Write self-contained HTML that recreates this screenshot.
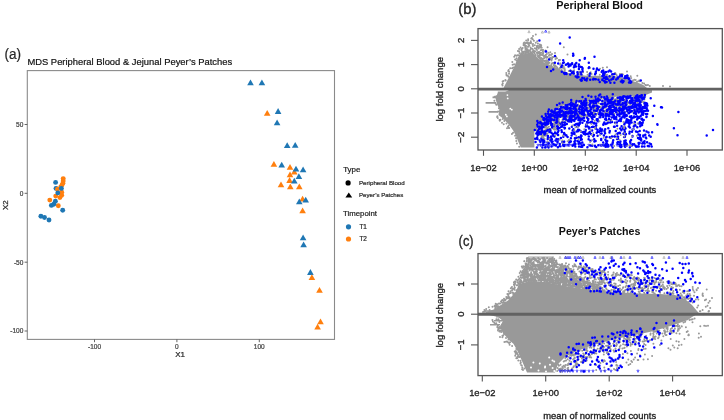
<!DOCTYPE html>
<html><head><meta charset="utf-8"><style>
html,body{margin:0;padding:0;background:#fff;width:724px;height:420px;overflow:hidden}
svg{display:block;filter:blur(0.3px)}
text{font-family:"Liberation Sans",sans-serif}
.ma text{stroke:#222;stroke-width:0.32px}
.ma text[font-weight="bold"]{stroke:none}
.pa text{stroke:#333;stroke-width:0.22px}
</style></head><body>
<svg width="724" height="420" viewBox="0 0 724 420">
<rect width="724" height="420" fill="#fff"/>
<g class="pa"><text x="4.4" y="59.2" font-size="14" fill="#262626" textLength="16.6" lengthAdjust="spacingAndGlyphs">(a)</text>
<text x="27.4" y="64.7" font-size="9.37" fill="#000" textLength="204.8" lengthAdjust="spacingAndGlyphs">MDS Peripheral Blood &amp; Jejunal Peyer&#8217;s Patches</text>
<rect x="27.3" y="70.6" width="307.2" height="268.8" fill="none" stroke="#8a8a8a" stroke-width="1.1"/>
<line x1="24.6" y1="124.5" x2="27.3" y2="124.5" stroke="#555" stroke-width="0.9"/>
<text x="23.3" y="126.8" font-size="6.5" fill="#555" text-anchor="end">50</text>
<line x1="24.6" y1="193.3" x2="27.3" y2="193.3" stroke="#555" stroke-width="0.9"/>
<text x="23.3" y="195.60000000000002" font-size="6.5" fill="#555" text-anchor="end">0</text>
<line x1="24.6" y1="262.2" x2="27.3" y2="262.2" stroke="#555" stroke-width="0.9"/>
<text x="23.3" y="264.5" font-size="6.5" fill="#555" text-anchor="end">-50</text>
<line x1="24.6" y1="331.0" x2="27.3" y2="331.0" stroke="#555" stroke-width="0.9"/>
<text x="23.3" y="333.3" font-size="6.5" fill="#555" text-anchor="end">-100</text>
<line x1="94.5" y1="339.4" x2="94.5" y2="342.2" stroke="#555" stroke-width="0.9"/>
<text x="94.5" y="348.5" font-size="6.5" fill="#555" text-anchor="middle">-100</text>
<line x1="176.9" y1="339.4" x2="176.9" y2="342.2" stroke="#555" stroke-width="0.9"/>
<text x="176.9" y="348.5" font-size="6.5" fill="#555" text-anchor="middle">0</text>
<line x1="259.3" y1="339.4" x2="259.3" y2="342.2" stroke="#555" stroke-width="0.9"/>
<text x="259.3" y="348.5" font-size="6.5" fill="#555" text-anchor="middle">100</text>
<text x="180.1" y="357.3" font-size="8" fill="#111" text-anchor="middle">X1</text>
<text x="8.0" y="205.2" font-size="8" fill="#111" text-anchor="middle" transform="rotate(-90 8.0 205.2)">X2</text>
<circle cx="40.9" cy="216.3" r="2.45" fill="#1f77b4"/>
<circle cx="44.5" cy="217.5" r="2.45" fill="#1f77b4"/>
<circle cx="49" cy="220" r="2.45" fill="#1f77b4"/>
<circle cx="62.7" cy="210.2" r="2.45" fill="#1f77b4"/>
<circle cx="58.3" cy="205.8" r="2.45" fill="#ff7f0e"/>
<circle cx="51.4" cy="205.4" r="2.45" fill="#1f77b4"/>
<circle cx="53.8" cy="204.2" r="2.45" fill="#1f77b4"/>
<circle cx="55.4" cy="201.3" r="2.45" fill="#1f77b4"/>
<circle cx="49.8" cy="200.1" r="2.45" fill="#ff7f0e"/>
<circle cx="56" cy="188.4" r="2.45" fill="#1f77b4"/>
<circle cx="55.7" cy="196.1" r="2.45" fill="#ff7f0e"/>
<circle cx="59.9" cy="197.6" r="2.45" fill="#ff7f0e"/>
<circle cx="61.7" cy="195.2" r="2.45" fill="#ff7f0e"/>
<circle cx="63.2" cy="178.6" r="2.45" fill="#ff7f0e"/>
<circle cx="63.2" cy="181" r="2.45" fill="#ff7f0e"/>
<circle cx="62.9" cy="183.3" r="2.45" fill="#ff7f0e"/>
<circle cx="62" cy="185.1" r="2.45" fill="#ff7f0e"/>
<circle cx="60.8" cy="186.9" r="2.45" fill="#ff7f0e"/>
<circle cx="57.5" cy="189.3" r="2.45" fill="#ff7f0e"/>
<circle cx="61.7" cy="192.3" r="2.45" fill="#ff7f0e"/>
<circle cx="57.8" cy="192.9" r="2.45" fill="#1f77b4"/>
<circle cx="61.4" cy="188.4" r="2.45" fill="#1f77b4"/>
<circle cx="55.6" cy="182.4" r="2.45" fill="#1f77b4"/>
<path d="M319.5 287.0L322.8 292.8L316.2 292.8Z" fill="#ff7f0e"/>
<path d="M298.9 173.2L302.2 179.0L295.6 179.0Z" fill="#1f77b4"/>
<path d="M294.3 168.8L297.6 174.6L291.0 174.6Z" fill="#ff7f0e"/>
<path d="M317.6 323.8L320.9 329.6L314.3 329.6Z" fill="#ff7f0e"/>
<path d="M320.5 318.4L323.8 324.2L317.2 324.2Z" fill="#ff7f0e"/>
<path d="M295.2 142.0L298.5 147.8L291.9 147.8Z" fill="#1f77b4"/>
<path d="M296.0 165.7L299.3 171.5L292.7 171.5Z" fill="#1f77b4"/>
<path d="M281.0 181.4L284.3 187.2L277.7 187.2Z" fill="#ff7f0e"/>
<path d="M250.5 79.5L253.8 85.3L247.2 85.3Z" fill="#1f77b4"/>
<path d="M303.6 241.4L306.9 247.2L300.3 247.2Z" fill="#1f77b4"/>
<path d="M303.1 166.4L306.4 172.2L299.8 172.2Z" fill="#1f77b4"/>
<path d="M310.4 269.1L313.7 274.9L307.1 274.9Z" fill="#1f77b4"/>
<path d="M290.3 183.5L293.6 189.3L287.0 189.3Z" fill="#ff7f0e"/>
<path d="M299.3 183.5L302.6 189.3L296.0 189.3Z" fill="#ff7f0e"/>
<path d="M289.6 177.1L292.9 182.9L286.3 182.9Z" fill="#ff7f0e"/>
<path d="M303.1 234.5L306.4 240.3L299.8 240.3Z" fill="#1f77b4"/>
<path d="M302.6 195.7L305.9 201.5L299.3 201.5Z" fill="#ff7f0e"/>
<path d="M311.9 274.2L315.2 280.0L308.6 280.0Z" fill="#ff7f0e"/>
<path d="M281.7 161.8L285.0 167.6L278.4 167.6Z" fill="#1f77b4"/>
<path d="M267.2 110.0L270.5 115.8L263.9 115.8Z" fill="#ff7f0e"/>
<path d="M302.6 207.4L305.9 213.2L299.3 213.2Z" fill="#ff7f0e"/>
<path d="M290.0 164.0L293.3 169.8L286.7 169.8Z" fill="#ff7f0e"/>
<path d="M305.7 196.7L309.0 202.5L302.4 202.5Z" fill="#1f77b4"/>
<path d="M277.1 119.5L280.4 125.3L273.8 125.3Z" fill="#1f77b4"/>
<path d="M273.9 161.0L277.2 166.8L270.6 166.8Z" fill="#ff7f0e"/>
<path d="M278.1 108.1L281.4 113.9L274.8 113.9Z" fill="#1f77b4"/>
<path d="M261.9 79.5L265.2 85.3L258.6 85.3Z" fill="#1f77b4"/>
<path d="M290.0 171.4L293.3 177.2L286.7 177.2Z" fill="#ff7f0e"/>
<path d="M299.3 198.5L302.6 204.3L296.0 204.3Z" fill="#1f77b4"/>
<path d="M287.2 142.3L290.5 148.1L283.9 148.1Z" fill="#1f77b4"/>
<path d="M294.3 177.8L297.6 183.6L291.0 183.6Z" fill="#1f77b4"/>
<text x="343.2" y="172.0" font-size="7.4" fill="#111" textLength="17.3" lengthAdjust="spacingAndGlyphs">Type</text>
<circle cx="348.1" cy="182.9" r="2.6" fill="#000"/>
<path d="M348.8 192.6L352.2 197.4L345.4 197.4Z" fill="#000"/>
<text x="359.0" y="185.0" font-size="6.1" fill="#222" textLength="45.7" lengthAdjust="spacingAndGlyphs">Peripheral Blood</text>
<text x="359.0" y="197.2" font-size="6.1" fill="#222" textLength="44.2" lengthAdjust="spacingAndGlyphs">Peyer&#8217;s Patches</text>
<text x="343.0" y="215.8" font-size="7.6" fill="#111" textLength="34" lengthAdjust="spacingAndGlyphs">Timepoint</text>
<circle cx="348.5" cy="226.8" r="2.6" fill="#1f77b4"/>
<circle cx="348.5" cy="239.0" r="2.6" fill="#ff7f0e"/>
<text x="359.4" y="229.1" font-size="6.4" fill="#222">T1</text>
<text x="359.4" y="241.3" font-size="6.4" fill="#222">T2</text></g>
<g class="ma"><text x="458.2" y="14.4" font-size="14" fill="#262626" textLength="18.2" lengthAdjust="spacingAndGlyphs">(b)</text>
<text x="599.6" y="8.6" font-size="10.6" fill="#111" text-anchor="middle" font-weight="bold" textLength="86.6" lengthAdjust="spacingAndGlyphs">Peripheral Blood</text>
<clipPath id="cb"><rect x="478.0" y="28.6" width="244.29999999999995" height="121.4"/></clipPath>
<g clip-path="url(#cb)">
<path d="M503.0 89.1L504.0 87.0L509.2 76.7L513.6 67.9L518.0 57.5L521.0 52.0L524.0 54.6L531.3 51.6L537.2 57.5L543.1 62.0L549.0 64.5L557.9 68.5L568.3 73.0L576.6 75.0L587.6 75.7L612.5 75.7L623.5 77.8L629.0 79.9L637.3 82.6L642.9 84.7L645.6 86.8L648.0 89.1Z" fill="#999999"/>
<path d="M538.3 57.3h0M521.8 49.6h0M557.2 67.5h0M544.1 58.0h0M525.6 47.9h0M536.2 48.9h0M557.8 68.4h0M551.5 60.6h0M530.6 47.5h0M529.5 43.2h0M521.5 50.3h0M522.7 48.0h0M540.3 53.5h0M522.6 52.7h0M526.5 48.6h0M526.4 52.0h0M552.1 58.8h0M526.5 48.3h0M529.8 43.3h0M525.3 45.5h0M554.2 63.5h0M528.0 46.5h0M525.0 51.3h0M545.6 57.2h0M547.4 60.4h0M553.9 65.0h0M542.9 51.7h0M541.2 57.9h0M547.3 57.1h0M537.2 47.6h0M545.9 54.8h0M526.1 45.9h0M525.9 53.0h0M541.3 49.9h0M551.4 64.4h0M529.0 45.9h0M536.0 48.8h0M526.5 52.6h0M543.0 54.7h0M546.3 56.8h0M543.1 53.4h0M543.1 59.1h0M537.0 46.2h0M528.9 50.7h0M545.8 55.5h0M523.2 53.6h0M553.1 63.0h0M546.8 63.6h0M543.6 60.8h0M557.1 67.9h0M523.6 45.3h0M551.5 60.1h0M543.5 55.5h0M530.4 51.7h0M539.4 55.0h0M540.5 54.7h0M539.5 52.6h0M556.2 66.4h0M523.1 53.1h0M537.0 49.9h0M525.7 47.5h0M528.0 46.7h0M539.2 53.2h0M533.0 52.5h0M543.5 55.7h0M547.6 63.3h0M528.4 43.9h0M525.5 43.2h0M540.0 55.3h0M525.4 46.8h0M538.6 53.0h0M525.2 53.6h0M525.8 45.8h0M553.6 63.1h0M543.1 52.3h0M541.9 55.0h0M547.7 62.5h0M553.8 65.2h0M545.7 62.2h0M543.5 58.3h0M544.3 56.8h0M539.3 51.9h0M546.0 62.0h0M542.6 61.4h0M528.2 52.2h0M533.0 44.0h0M539.9 55.1h0M524.4 54.1h0M539.0 57.6h0M532.6 49.1h0M544.1 56.5h0M527.8 42.5h0M535.1 54.3h0M546.8 54.0h0M542.9 53.7h0M526.1 42.7h0M536.2 48.4h0M541.2 52.7h0M549.0 55.7h0M549.3 58.3h0M532.3 48.7h0M545.3 56.7h0M541.6 58.5h0M554.5 65.2h0M540.0 58.5h0M526.4 50.6h0M550.3 58.3h0M534.9 48.3h0M535.1 51.3h0M540.5 54.5h0M521.3 49.6h0M546.9 60.2h0M529.3 45.2h0M532.6 44.5h0M546.3 56.8h0M554.7 66.9h0M555.3 65.6h0M527.9 51.1h0M532.6 51.2h0M533.8 51.8h0M518.9 55.3h0M539.7 56.7h0M533.7 50.5h0M537.7 55.9h0M546.8 60.6h0M551.0 59.4h0M552.1 63.2h0M551.3 65.5h0M534.8 45.3h0M533.0 45.9h0M526.2 52.9h0M525.4 47.2h0M525.4 48.9h0M537.3 47.3h0M539.1 55.3h0M546.5 57.8h0M524.3 45.6h0M530.8 48.4h0M551.8 63.7h0M537.2 54.0h0M539.7 55.6h0M530.4 49.8h0M522.2 52.0h0M551.1 59.1h0M540.5 53.8h0M529.9 50.5h0M528.2 46.7h0M523.6 43.9h0M545.0 60.6h0M525.2 52.2h0M524.3 44.7h0M548.6 63.6h0M533.4 50.3h0M544.3 57.9h0M522.2 51.6h0M550.9 57.9h0M541.0 60.3h0M539.7 56.6h0M550.6 57.7h0M544.8 61.4h0M523.7 51.8h0M538.7 48.5h0M540.7 50.3h0M536.7 52.5h0M542.9 60.0h0M548.2 61.7h0M551.4 64.6h0M534.3 53.1h0M539.0 55.6h0M530.8 42.8h0M547.2 57.6h0M523.0 53.5h0M538.1 52.1h0M539.0 47.8h0M527.4 43.2h0M527.7 49.4h0M531.0 43.0h0M553.7 63.5h0M533.9 51.0h0M536.9 46.9h0M536.9 46.0h0M553.9 65.0h0M526.9 49.7h0M525.2 47.7h0M527.1 49.5h0M535.6 55.7h0M521.5 49.1h0M540.2 58.8h0M545.3 55.5h0M549.4 62.8h0M541.8 60.7h0" stroke="#999999" stroke-width="2.0" stroke-linecap="round" fill="none"/>
<path d="M549.5 54.6h0M552.0 54.0h0M539.8 44.6h0M541.2 47.1h0M558.8 60.4h0M558.9 60.1h0M541.2 45.3h0M524.4 42.6h0M557.0 58.3h0M532.7 39.2h0M542.8 50.0h0M535.8 42.8h0M533.9 40.8h0M550.3 52.3h0M538.0 45.7h0M552.3 56.9h0M541.2 45.3h0M555.5 58.9h0M540.1 46.7h0M537.9 43.4h0M556.1 57.0h0M531.3 38.4h0M528.1 39.3h0M548.3 52.7h0M540.2 47.4h0M560.5 63.6h0M530.8 41.3h0M539.9 45.9h0M545.5 50.6h0M553.7 57.0h0M523.8 43.1h0M528.1 40.3h0M539.3 46.5h0M527.5 42.4h0M541.7 47.8h0M540.8 45.0h0" stroke="#999999" stroke-width="2.0" stroke-linecap="round" fill="none"/>
<path d="M514.1 64.3h0M516.6 58.3h0M502.9 88.7h0M505.6 80.4h0M510.2 68.3h0M519.5 53.0h0M506.3 73.1h0M505.4 80.1h0M517.9 51.0h0M514.2 56.7h0M516.6 60.4h0M507.8 75.8h0M506.6 75.4h0M515.1 55.2h0M502.2 84.5h0M508.4 76.7h0M515.1 59.6h0M509.0 73.7h0M505.7 80.6h0M512.1 68.2h0M517.5 55.3h0M512.6 64.8h0M519.1 48.9h0M519.1 51.2h0M509.1 71.7h0M503.5 80.9h0M502.5 85.5h0M516.6 55.8h0M512.3 62.1h0M508.2 71.1h0M506.4 74.7h0M520.6 47.6h0M502.6 81.6h0M502.8 83.4h0M513.3 67.5h0M508.7 70.0h0" stroke="#999999" stroke-width="2.0" stroke-linecap="round" fill="none"/>
<path d="M611.7 75.0h0M628.3 77.3h0M625.5 76.2h0M579.4 74.3h0M636.7 81.9h0M570.3 70.8h0M645.4 85.1h0M560.8 66.5h0M560.1 64.7h0M634.3 79.7h0M620.1 74.4h0M581.2 74.9h0M630.7 76.3h0M646.4 85.2h0M639.2 80.6h0M564.5 68.2h0M628.1 76.0h0M572.7 71.5h0M562.7 67.7h0M561.7 69.9h0M587.1 72.1h0M644.1 83.4h0M616.1 74.5h0M604.3 73.7h0M603.0 75.0h0M648.0 84.9h0M637.8 81.5h0M616.8 75.2h0M560.0 67.7h0M621.9 75.8h0M606.0 75.1h0M607.2 74.8h0M580.1 71.5h0M596.1 73.3h0M579.6 74.8h0M628.1 76.7h0M628.5 78.8h0M622.9 74.4h0M564.4 70.1h0M621.9 74.0h0M568.9 70.9h0M604.8 73.4h0M591.6 74.0h0M615.4 73.4h0M599.8 74.8h0M626.7 77.2h0M606.6 75.3h0M613.7 74.5h0M564.8 70.8h0M583.1 72.2h0M571.6 71.1h0M582.3 75.2h0M589.3 74.0h0M573.7 72.1h0M578.8 72.3h0M563.7 66.3h0M574.1 70.2h0M587.6 74.7h0M590.7 72.2h0M639.6 81.2h0M621.7 75.4h0M596.0 72.9h0M604.3 74.7h0M631.2 78.1h0M642.4 83.0h0M564.8 69.6h0M571.6 72.9h0M577.9 74.2h0M559.5 69.0h0M632.9 80.5h0M560.7 67.7h0M564.0 68.3h0M635.7 80.0h0" stroke="#999999" stroke-width="2.0" stroke-linecap="round" fill="none"/>
<path d="M535.8 34.6h0M526.2 40.5h0M530.6 42.8h0M537.2 41.3h0M540.9 45.7h0M547.6 47.2h0M555.0 53.1h0M563.8 47.2h0M567.5 54.6h0M600.0 68.8h0M602.8 67.7h0M607.0 67.2h0M615.2 73.0h0M627.0 71.6h0M637.3 75.7h0M649.8 86.0h0M663.0 86.0h0M670.0 86.5h0M532.0 38.0h0M543.0 50.0h0M551.0 55.0h0M560.0 60.0h0M575.0 64.0h0M590.0 68.0h0M620.0 74.0h0M533.0 36.0h0" stroke="#999999" stroke-width="2.0" stroke-linecap="round" fill="none"/>
<path d="M529.0 30.5l1.1 2.2h-2.2zM542.4 30.9l1.1 2.2h-2.2zM549.0 30.9l1.1 2.2h-2.2z" stroke="#999999" stroke-width="0.6" fill="none"/>
<path d="M511.0 89.1L505.0 92.1L497.8 92.8L495.5 98.2L497.0 104.3L499.3 108.9L498.5 115.0L502.4 118.0L508.5 124.1L513.0 130.2L516.1 136.3L519.2 143.9L520.7 147.5L534.4 147.5L534.4 130.0L540.0 122.0L548.0 113.5L557.7 107.7L566.0 104.5L575.0 102.3L584.0 100.5L593.0 99.0L602.0 97.8L620.0 96.5L645.0 95.2L652.0 92.5L652.0 89.1Z" fill="#999999"/>
<path d="M605.1 112.4h0M554.7 117.6h0M598.0 105.9h0M555.8 127.7h0M543.2 133.9h0M540.2 132.2h0M633.1 112.3h0M637.6 96.9h0M557.0 123.9h0M594.7 112.0h0M551.2 120.7h0M591.6 112.6h0M603.7 103.9h0M640.2 101.1h0M636.7 97.0h0M566.4 108.3h0M555.3 112.8h0M550.6 113.3h0M597.9 101.1h0M622.3 98.0h0M605.2 107.7h0M556.0 115.2h0M564.0 111.6h0M612.5 103.7h0M630.0 104.1h0M597.1 110.4h0M606.2 98.1h0M615.0 105.6h0M581.8 109.4h0M579.2 109.2h0M611.6 102.0h0M557.3 122.8h0M581.0 103.4h0M594.3 100.9h0M564.1 122.1h0M567.1 115.6h0M588.9 113.0h0M588.4 111.2h0M610.7 101.9h0M551.2 114.2h0M584.5 108.4h0M541.7 125.4h0M558.5 115.2h0M639.7 110.2h0M550.6 130.2h0M557.9 124.0h0M542.7 136.6h0M550.2 119.7h0M562.4 119.9h0M572.3 114.0h0M586.6 100.5h0M607.0 111.5h0M575.9 103.1h0M548.9 126.7h0M576.6 113.6h0M574.1 111.0h0M562.7 109.3h0M545.7 131.0h0M638.1 108.8h0M550.4 123.8h0M634.8 99.0h0M574.1 116.4h0M557.1 108.2h0M582.2 107.7h0M571.1 103.8h0M601.8 109.5h0M548.6 131.4h0M544.6 120.2h0M580.6 102.2h0M609.8 102.3h0M594.1 113.7h0M642.4 109.1h0M583.8 116.0h0M598.0 107.7h0M622.1 110.1h0M544.9 134.8h0M609.5 113.7h0M593.0 104.3h0M586.5 106.7h0M610.5 100.0h0M628.5 112.2h0M644.4 103.2h0M639.9 104.5h0M583.6 115.7h0M587.1 111.8h0M614.5 109.8h0M598.2 101.7h0M575.9 109.1h0M549.8 121.6h0M628.9 112.3h0M536.1 129.5h0M623.4 98.9h0M555.7 109.3h0M568.5 115.4h0M574.4 116.3h0M623.8 106.9h0M640.0 102.9h0M625.0 100.6h0M568.5 115.0h0M567.3 114.0h0M626.7 98.4h0M572.7 105.4h0M610.3 110.2h0M589.7 112.1h0M567.8 108.6h0M633.4 111.3h0M589.9 110.6h0M631.0 97.5h0M552.9 120.4h0M550.7 129.0h0M621.9 107.5h0M543.5 127.0h0M616.8 97.9h0M548.4 115.2h0M580.6 116.4h0M602.7 110.9h0M629.1 97.1h0M591.8 107.4h0M598.2 98.5h0M628.7 97.1h0M541.3 127.9h0M612.5 111.7h0M606.4 98.2h0M557.5 115.4h0M579.2 106.2h0M603.5 111.1h0M609.2 97.6h0M578.9 107.5h0M612.2 99.6h0M568.8 112.9h0M548.4 122.0h0M556.4 119.0h0M567.2 117.1h0M593.4 107.1h0M573.7 107.9h0M552.2 120.6h0M591.9 107.2h0M542.3 125.2h0M544.5 121.3h0M641.2 100.9h0M541.2 134.9h0M610.8 100.4h0M599.6 113.7h0M593.6 107.6h0M575.7 103.7h0M600.7 98.0h0M642.0 108.5h0M590.0 114.0h0M594.4 99.8h0M632.8 97.5h0M613.5 105.6h0M616.3 106.2h0M539.2 134.6h0M574.5 104.3h0M608.5 99.5h0M561.9 112.8h0M612.6 105.2h0M556.8 116.8h0M566.1 120.0h0M544.5 126.3h0M553.5 127.7h0M640.5 104.5h0M543.8 131.2h0M547.3 124.0h0M550.6 117.2h0M537.6 134.1h0M625.1 104.9h0M541.6 125.5h0M550.8 120.7h0M580.3 101.7h0M582.2 101.3h0M597.3 113.5h0M639.2 104.5h0M537.6 131.4h0M632.5 102.1h0M562.2 122.7h0M600.0 106.7h0M607.2 109.1h0M603.1 106.0h0M545.7 130.0h0M550.4 129.0h0M565.1 111.5h0M570.9 112.2h0M598.6 106.3h0M615.5 105.3h0M596.6 105.8h0M548.3 114.9h0M567.4 120.9h0M592.8 115.5h0M593.3 102.9h0M603.4 108.4h0M620.9 108.1h0M576.3 114.6h0M544.6 125.4h0M553.1 118.1h0M574.7 102.6h0M634.4 103.1h0M614.6 102.8h0M544.4 133.7h0M552.8 111.1h0M547.2 119.4h0M601.8 107.4h0M539.6 124.2h0M589.3 108.1h0M583.7 114.1h0M602.1 107.3h0M595.9 110.2h0M583.8 113.2h0M626.6 107.5h0M569.9 117.2h0M561.4 111.9h0M588.4 100.1h0M556.9 117.2h0M625.1 107.4h0M600.6 99.3h0M591.8 103.2h0M544.0 124.1h0M543.9 119.5h0M551.0 125.6h0M622.9 106.3h0M622.2 99.8h0M548.8 117.9h0M555.2 120.3h0M611.8 109.4h0M593.5 111.2h0M592.0 101.8h0M616.8 106.6h0M579.8 106.3h0M601.7 114.5h0M611.4 114.2h0M546.2 117.2h0M562.9 108.5h0M617.6 102.2h0M605.3 100.5h0M535.8 128.1h0M620.7 98.2h0M620.8 105.7h0M555.6 118.7h0M607.1 113.6h0M608.8 106.3h0M602.8 114.4h0M561.4 108.8h0M570.3 109.3h0M584.8 114.4h0M584.9 115.2h0M607.8 109.3h0M565.7 116.5h0M641.5 101.3h0M623.5 107.7h0M554.5 117.8h0M541.0 121.2h0M632.8 103.3h0M567.3 119.9h0M610.9 97.3h0M596.5 106.6h0M587.4 116.1h0M611.3 103.2h0M616.8 102.2h0M577.8 112.2h0M572.1 111.4h0M552.5 113.1h0M544.9 130.8h0M601.2 98.3h0M575.4 109.9h0M619.3 98.5h0M582.0 116.9h0M551.0 125.1h0M560.9 122.8h0M585.0 107.4h0M573.6 106.1h0M640.3 98.8h0M610.3 99.3h0M619.7 102.3h0M545.0 127.8h0M589.6 108.5h0M593.3 112.0h0M537.5 132.0h0M595.2 102.1h0M542.8 137.1h0M553.7 124.0h0M547.1 129.4h0M588.3 108.0h0M567.1 112.8h0M611.1 99.9h0M557.8 117.1h0M615.0 102.6h0M578.0 112.9h0M587.2 107.4h0M612.3 98.7h0M591.9 113.6h0M554.9 118.0h0M586.2 102.6h0M582.1 115.6h0M617.8 109.0h0M542.3 128.0h0M547.6 128.5h0M616.9 100.2h0M613.4 104.5h0M642.1 96.8h0M552.5 128.1h0M620.2 107.2h0M543.0 133.5h0M598.1 99.0h0M586.4 115.2h0M633.3 110.7h0M619.9 102.7h0M558.7 107.5h0M596.6 109.6h0M540.6 130.5h0M622.9 98.0h0M566.1 115.9h0M542.3 120.3h0M593.3 108.8h0M588.8 111.6h0M557.4 121.8h0M574.8 107.1h0M604.9 101.0h0M607.7 112.5h0M594.3 110.5h0M546.9 134.3h0M643.4 98.8h0M544.1 130.5h0M594.2 99.3h0M598.2 102.9h0M583.1 108.1h0M641.8 97.4h0M619.9 100.6h0M559.1 121.9h0M600.3 113.1h0M612.7 111.9h0M604.3 104.0h0M549.9 118.0h0M595.0 104.7h0M600.1 109.2h0M613.5 97.5h0M605.1 99.5h0M637.1 105.1h0M602.4 105.9h0M537.5 126.3h0M630.7 104.7h0M596.7 105.7h0M540.9 121.2h0M544.1 134.5h0M642.4 101.8h0M575.1 109.0h0M588.6 105.6h0M622.0 111.0h0M617.8 110.9h0M553.9 114.0h0M547.2 127.4h0M562.7 117.5h0M640.4 108.6h0M555.8 117.6h0M557.9 122.9h0M587.3 100.2h0M544.7 122.8h0M559.9 116.9h0M638.4 99.3h0M643.2 108.3h0M567.5 108.9h0M644.4 99.4h0M598.6 109.7h0M548.3 118.2h0M573.0 117.2h0M640.3 97.9h0M543.7 123.9h0M641.7 101.9h0M555.6 115.8h0M608.7 97.5h0M556.8 121.4h0M616.0 99.3h0M581.1 110.1h0M548.7 122.8h0M549.9 114.8h0M544.0 120.3h0M634.4 100.9h0M564.6 118.5h0M540.8 129.8h0M615.1 100.5h0M604.3 101.0h0M594.1 99.4h0M566.1 115.4h0M638.8 110.2h0M573.8 104.6h0M617.5 111.7h0M563.2 113.5h0M616.0 99.0h0M585.5 106.5h0M567.1 110.3h0M556.7 121.0h0M634.4 101.2h0M555.5 109.2h0M572.3 114.4h0M558.1 109.5h0M547.1 114.9h0M617.3 111.1h0M606.0 105.4h0M639.9 108.5h0M554.1 110.8h0M543.3 136.2h0M595.8 103.0h0M598.2 112.5h0M542.1 120.7h0M613.9 104.9h0M571.9 114.8h0M625.9 99.4h0M556.3 113.5h0M567.3 117.5h0M617.4 99.3h0M580.3 117.1h0M546.3 135.6h0M576.4 106.1h0M543.6 119.3h0M605.8 114.5h0M623.8 109.3h0M571.8 114.6h0M545.2 120.1h0M614.8 110.6h0M616.5 111.1h0M604.5 99.8h0M570.2 120.3h0M631.8 107.4h0M557.9 123.0h0M542.8 123.2h0M629.9 107.2h0M605.3 110.5h0M560.4 123.5h0M555.0 111.1h0M624.3 108.3h0M576.7 107.7h0M604.6 112.7h0M565.3 108.2h0M617.9 104.4h0M573.3 116.5h0M633.4 95.9h0M551.2 124.3h0M629.5 109.4h0M613.4 114.1h0M570.4 108.8h0M558.9 124.7h0M636.9 100.3h0M566.7 113.2h0M628.1 102.2h0M537.8 126.9h0M626.3 103.7h0M640.9 100.6h0M580.8 105.6h0M629.7 109.5h0M637.0 96.7h0M634.5 96.1h0M624.7 96.8h0M626.3 96.2h0M631.1 105.9h0M618.0 111.2h0M582.1 115.8h0M554.5 120.7h0M621.6 104.4h0M576.0 106.7h0M591.1 100.9h0M579.4 115.4h0M594.4 102.6h0M554.5 125.7h0M592.5 113.6h0M590.0 113.6h0M562.6 121.3h0M547.1 127.9h0M556.6 112.2h0M600.2 107.1h0M643.9 96.2h0M586.7 109.7h0M584.0 111.8h0M601.0 113.9h0M610.6 111.3h0M618.3 114.1h0M609.5 99.5h0M591.8 107.7h0M607.4 102.7h0M568.0 106.5h0M566.0 120.5h0M578.4 114.4h0M607.7 104.5h0M633.6 98.1h0M637.5 105.2h0M549.1 122.8h0M573.4 103.2h0M606.4 100.3h0M611.1 105.7h0M642.4 108.2h0M589.7 116.2h0M643.7 102.1h0M575.2 110.6h0M546.3 126.4h0M575.2 118.8h0M577.4 108.9h0M587.8 116.2h0M555.0 118.4h0M581.3 113.7h0M568.5 119.7h0M603.0 101.0h0M583.0 101.1h0M547.2 115.8h0M609.4 112.0h0M632.3 98.2h0M592.5 100.2h0M634.9 105.7h0M621.9 96.9h0M590.7 108.8h0M591.3 112.4h0M596.3 114.6h0M561.2 109.8h0M563.8 108.4h0M623.4 109.0h0M558.2 120.4h0M640.6 95.9h0M571.6 109.0h0M607.4 101.2h0M591.7 108.7h0M606.4 98.4h0M593.0 114.3h0M601.8 107.9h0M627.7 106.8h0M595.8 114.7h0M594.6 111.5h0M585.9 107.3h0M584.5 107.0h0M545.1 135.8h0M570.1 107.4h0M596.3 108.3h0M615.9 108.8h0M638.1 97.1h0M540.8 134.7h0M611.9 107.0h0M606.8 111.3h0M591.6 107.5h0M629.7 106.7h0M580.4 113.4h0M608.5 106.9h0M619.5 100.0h0M546.5 134.5h0M624.1 101.8h0M594.0 103.6h0M616.7 100.7h0M580.5 102.0h0M607.6 110.9h0M623.3 111.6h0M554.5 119.7h0M584.6 100.7h0M637.2 110.5h0M603.3 97.9h0M611.4 101.1h0M587.7 105.0h0M617.6 113.2h0M596.3 108.8h0M608.2 114.5h0M622.7 108.3h0M545.1 132.4h0M574.7 106.2h0M603.2 111.1h0M621.0 110.6h0M592.5 107.7h0M562.7 114.2h0M607.9 112.2h0M618.7 97.2h0M547.9 118.6h0M619.2 102.6h0M573.9 111.5h0M637.3 102.4h0M604.8 105.3h0M571.5 111.7h0M611.0 100.4h0M640.5 102.7h0M617.6 111.2h0M538.5 124.7h0M554.7 125.1h0M566.1 109.1h0M639.7 102.6h0M558.2 111.9h0M570.5 104.4h0M594.9 101.2h0M569.7 108.3h0M555.6 123.7h0M570.2 118.3h0M554.9 126.8h0M593.6 113.3h0M598.7 98.9h0M570.5 109.9h0M575.7 113.7h0M560.6 115.3h0M575.3 116.9h0M554.3 128.6h0M612.2 111.7h0M538.9 132.2h0M560.4 122.8h0M630.2 111.3h0M554.7 117.6h0M536.7 128.6h0M638.1 103.7h0M627.5 107.1h0M623.8 112.3h0M615.2 104.5h0M610.0 102.6h0M551.6 113.7h0M547.2 121.3h0M554.2 111.4h0M604.2 102.1h0M567.3 109.3h0M565.5 119.7h0M598.5 101.1h0M551.7 123.3h0M542.3 133.6h0M599.1 103.6h0M549.1 129.0h0M537.6 125.8h0M626.0 100.0h0M634.1 95.8h0M570.9 104.6h0M558.1 117.6h0M558.1 125.8h0M585.2 103.0h0M552.8 111.3h0M605.4 106.8h0M554.9 118.7h0M581.6 102.5h0M563.6 117.1h0M611.5 99.9h0M554.0 116.3h0M593.1 103.1h0M605.1 99.2h0M593.2 107.4h0M565.3 105.5h0M612.9 106.2h0M591.7 100.2h0M552.9 113.8h0M570.4 109.6h0M568.1 110.0h0M574.1 105.5h0M538.7 130.5h0M568.0 107.3h0M547.4 125.1h0M636.0 109.2h0M540.9 123.1h0M552.6 111.4h0M573.7 107.3h0M644.6 104.0h0M612.9 102.5h0M541.5 126.3h0M553.0 123.8h0M565.1 114.8h0M612.9 98.9h0M590.2 111.7h0M633.3 107.2h0M637.2 111.4h0M619.6 103.5h0M578.4 112.3h0M554.3 123.2h0M539.4 129.2h0M627.1 111.2h0M625.2 96.3h0M586.1 116.3h0M595.7 106.8h0M542.2 136.0h0M583.8 115.5h0M535.8 130.3h0M589.1 115.6h0M613.4 98.2h0M567.4 107.5h0M588.6 114.0h0M601.2 104.1h0M564.0 108.9h0M564.3 111.1h0M591.7 109.0h0M541.4 131.6h0M638.6 111.7h0M595.1 114.4h0M579.5 111.7h0M626.2 105.3h0M558.9 119.1h0M635.0 110.9h0M611.9 111.3h0M554.6 118.2h0M595.1 105.1h0M568.6 116.3h0M640.5 107.4h0M640.0 105.8h0M568.0 113.8h0M596.5 106.2h0M547.0 128.4h0M557.2 116.3h0M644.5 104.0h0M608.6 108.9h0M578.9 117.5h0M639.1 97.4h0M559.4 124.3h0M571.5 118.4h0M582.3 113.8h0M557.6 114.4h0M542.6 137.4h0M593.0 108.0h0M552.7 126.7h0M624.4 102.2h0M542.1 120.4h0M637.5 99.1h0M587.8 114.9h0M602.2 110.3h0M574.9 116.9h0M599.5 100.8h0M608.7 106.3h0M607.4 105.6h0M587.8 108.7h0M621.6 113.1h0M544.1 135.0h0M613.2 101.0h0M612.5 97.7h0M593.1 114.9h0M630.2 96.4h0M556.7 118.9h0M561.0 112.4h0M545.9 126.4h0M558.9 120.0h0M632.2 97.9h0M576.9 106.8h0M614.4 113.8h0M597.1 98.6h0M538.8 128.5h0M581.4 116.3h0M596.5 104.8h0M566.1 106.6h0M645.2 96.4h0M553.2 112.4h0M627.0 104.2h0M625.1 103.0h0M627.9 113.1h0M573.5 106.0h0M555.5 122.6h0M615.5 105.2h0M607.3 102.4h0M539.9 125.5h0M617.0 105.5h0M547.2 124.3h0M628.7 96.6h0M604.8 98.4h0M619.4 99.2h0M622.5 108.6h0M584.5 112.2h0M624.6 100.1h0M577.8 112.4h0M635.8 111.5h0M590.1 115.4h0M537.6 129.8h0M547.0 117.5h0M605.3 98.7h0M573.6 119.4h0M579.0 102.0h0M619.5 113.2h0M595.2 109.6h0M541.7 136.6h0M630.3 109.1h0M637.0 96.2h0M551.3 115.2h0M615.2 104.5h0M570.6 108.8h0M639.8 106.8h0M625.9 103.7h0M542.6 135.7h0M619.3 106.2h0M629.0 102.4h0M588.8 108.0h0M598.3 106.4h0M595.6 106.6h0M602.8 106.6h0M624.9 111.7h0M570.2 118.3h0M550.5 113.3h0M634.2 96.6h0M555.6 119.5h0M602.3 102.1h0M595.7 107.8h0M572.6 114.9h0M603.0 109.1h0M632.3 99.9h0M555.4 120.6h0M541.3 128.6h0M623.1 104.6h0M541.1 122.6h0M633.3 103.2h0M636.6 107.4h0M619.6 103.8h0M543.7 131.8h0M600.0 98.8h0M617.8 105.1h0M558.2 118.2h0M560.5 123.6h0M567.0 111.3h0M577.6 116.0h0M544.1 133.2h0M544.0 132.3h0M642.0 111.4h0M538.9 130.2h0M599.5 100.0h0M555.0 112.0h0M564.0 114.1h0M593.5 115.8h0M639.2 112.0h0M644.3 95.6h0M569.3 111.5h0M584.8 110.2h0M587.5 104.7h0M578.5 105.1h0M559.7 114.8h0M615.4 99.8h0M576.8 111.7h0M567.2 115.2h0M622.2 106.5h0M634.7 106.6h0M574.4 116.3h0M564.6 118.1h0M640.3 105.7h0M589.5 110.9h0M547.7 119.8h0M629.5 112.3h0M552.1 120.4h0M621.5 100.8h0M595.0 109.7h0M642.0 97.8h0M596.7 102.6h0M636.7 109.9h0M619.8 113.8h0M556.2 111.8h0M587.8 116.3h0M551.2 124.3h0M564.7 106.5h0M602.8 100.6h0M558.2 108.7h0M595.6 101.8h0M628.8 106.2h0M596.5 109.7h0M621.0 103.1h0M627.2 97.1h0M536.4 128.8h0M629.1 96.9h0M554.8 113.0h0M596.2 102.3h0M587.6 114.6h0M642.1 107.6h0M608.3 104.4h0M570.2 110.4h0M619.8 101.6h0M592.8 104.4h0M639.2 104.4h0M590.1 110.2h0M604.4 111.4h0M575.6 107.7h0M636.6 111.3h0M622.3 108.8h0M600.0 114.9h0M569.4 109.4h0M572.6 110.7h0M582.6 101.9h0M637.0 104.5h0M553.5 129.1h0M622.0 110.7h0M637.6 101.4h0M619.9 104.8h0M618.4 103.2h0M562.1 122.2h0M569.6 120.2h0M627.8 103.6h0M604.9 104.0h0M639.3 95.8h0M613.0 101.8h0M588.3 102.8h0M580.8 110.4h0M617.6 100.7h0M587.2 101.3h0M613.7 99.0h0M634.1 98.9h0M581.5 111.0h0M564.8 114.1h0M546.0 125.3h0M596.1 115.2h0M596.2 110.0h0M554.3 121.4h0M557.4 120.2h0M619.5 112.1h0M609.6 114.1h0M547.6 133.5h0M593.9 106.4h0M571.9 115.4h0M537.3 131.3h0M623.8 106.0h0M594.4 103.6h0M560.9 123.2h0M636.6 96.4h0M551.6 116.3h0M552.1 118.0h0M565.2 114.5h0M557.7 123.5h0M578.1 115.8h0M575.7 103.1h0M557.6 109.6h0M575.4 107.1h0M546.1 120.1h0M636.9 100.1h0M546.4 134.0h0M574.9 114.0h0M605.0 107.8h0M578.3 104.5h0M641.4 111.7h0M555.9 111.9h0M585.5 103.3h0M540.5 124.9h0M626.0 106.9h0M556.3 114.6h0M562.2 106.8h0M614.6 100.4h0M630.3 97.4h0M608.1 109.5h0M589.4 100.8h0M589.3 114.2h0M621.1 103.8h0M584.6 100.4h0M553.9 110.8h0M546.3 118.2h0M544.9 134.9h0M546.0 133.6h0M569.9 111.3h0M545.4 123.3h0M542.5 125.1h0M594.4 107.5h0M541.7 136.1h0M638.4 110.6h0M548.9 114.5h0M546.7 128.8h0M629.8 101.8h0M555.6 121.5h0M573.5 108.5h0M558.6 111.9h0M553.5 118.7h0M543.4 137.7h0M561.3 112.6h0M575.8 115.4h0" stroke="#999999" stroke-width="2.0" stroke-linecap="round" fill="none"/>
<line x1="497.8" y1="92.3" x2="510" y2="92.3" stroke="#999999" stroke-width="1.8"/>
<line x1="492.5" y1="97.4" x2="503" y2="97.4" stroke="#999999" stroke-width="1.8"/>
<line x1="485.6" y1="102.8" x2="496" y2="102.8" stroke="#999999" stroke-width="1.8"/>
<line x1="488.5" y1="111.9" x2="498" y2="111.9" stroke="#999999" stroke-width="1.8"/>
<path d="M496.3 104.7h0M516.1 138.1h0M504.3 120.9h0M502.8 119.1h0M497.8 117.9h0M516.9 143.4h0M515.1 135.7h0M497.4 116.3h0M499.5 120.0h0M511.9 134.0h0M494.4 100.7h0M499.9 120.8h0M506.5 123.5h0M516.2 138.4h0M498.9 108.2h0M507.0 128.3h0M494.6 96.8h0M500.4 119.8h0M502.0 122.8h0M508.8 125.4h0M519.2 146.8h0M513.1 132.7h0M503.7 124.3h0M508.8 128.0h0M496.3 96.3h0M509.2 127.9h0M508.0 126.4h0M497.1 117.1h0M516.3 140.9h0M516.1 138.2h0M495.6 103.5h0M498.1 111.4h0" stroke="#999999" stroke-width="2.0" stroke-linecap="round" fill="none"/>
<path d="M507.4 95.1h0M511.8 109.7h0M507.7 98.4h0M505.8 114.7h0M510.3 108.7h0M506.9 116.4h0" stroke="#ffffff" stroke-width="1.8" stroke-linecap="round" fill="none"/>
<path d="M555.4 112.9h0M547.9 122.0h0M636.0 114.1h0M636.0 131.5h0M638.5 104.5h0M625.3 106.2h0M608.7 102.6h0M574.5 107.0h0M540.2 123.3h0M547.2 120.3h0M617.9 97.8h0M563.4 145.7h0M644.1 110.9h0M624.9 114.6h0M614.7 108.6h0M589.7 132.1h0M612.6 143.2h0M624.6 127.2h0M542.8 140.7h0M612.4 97.9h0M628.8 126.6h0M643.3 136.5h0M628.5 98.1h0M620.4 141.6h0M607.7 103.8h0M620.2 119.2h0M604.6 103.3h0M580.8 137.5h0M619.6 108.3h0M573.3 130.0h0M620.0 97.3h0M574.2 116.6h0M547.3 119.7h0M640.4 102.3h0M582.9 112.9h0M543.7 123.5h0M557.2 118.8h0M569.3 140.8h0M595.6 128.6h0M546.6 122.1h0M609.8 112.9h0M540.3 122.0h0M624.6 112.6h0M563.4 107.3h0M623.1 96.4h0M601.2 139.9h0M625.5 128.6h0M575.5 118.4h0M599.9 99.9h0M543.7 118.3h0M556.5 122.6h0M592.7 106.1h0M624.3 108.6h0M569.3 128.6h0M561.9 114.9h0M625.8 96.8h0M640.8 95.9h0M585.8 126.4h0M585.9 100.4h0M590.2 103.8h0M556.5 114.2h0M588.3 133.6h0M572.7 145.8h0M591.1 112.5h0M606.4 120.0h0M632.0 131.7h0M551.9 124.0h0M572.5 115.9h0M592.9 126.7h0M635.8 113.1h0M580.9 131.6h0M561.5 130.2h0M596.7 119.3h0M550.6 113.9h0M572.0 112.8h0M605.1 99.4h0M578.0 129.8h0M595.3 101.0h0M557.4 123.0h0M594.4 116.8h0M609.3 102.2h0M620.2 109.3h0M621.8 110.8h0M579.3 129.9h0M600.4 117.2h0M564.6 134.1h0M560.5 116.8h0M575.3 146.5h0M559.5 128.0h0M644.0 98.5h0M571.0 120.5h0M633.7 117.4h0M597.5 131.7h0M573.6 144.7h0M602.5 114.1h0M540.1 133.1h0M592.2 122.2h0M635.1 97.7h0M642.3 143.4h0M575.4 110.1h0M611.3 99.4h0M596.2 125.6h0M593.9 135.0h0M574.8 111.4h0M536.9 147.4h0M582.2 146.8h0M646.6 116.7h0M616.2 112.2h0M630.3 111.6h0M615.1 107.9h0M603.3 114.8h0M611.6 109.9h0M545.2 147.4h0M607.5 98.1h0M558.4 114.7h0M626.6 115.1h0M639.3 117.8h0M643.7 120.0h0M569.4 111.4h0M639.6 97.1h0M637.4 119.0h0M625.7 140.6h0M624.1 115.2h0M550.3 121.5h0M560.1 109.1h0M627.3 111.3h0M622.0 109.2h0M562.0 115.4h0M605.7 123.9h0M552.6 141.6h0M587.9 112.7h0M560.9 111.7h0M610.0 103.0h0M623.6 113.7h0M614.0 126.8h0M566.5 113.3h0M642.4 108.8h0M610.3 122.4h0M644.6 143.5h0M618.7 103.9h0M637.7 111.0h0M549.5 132.1h0M638.1 97.1h0M578.4 120.0h0M631.4 118.6h0M636.2 146.8h0M637.5 132.1h0M583.9 113.3h0M582.4 111.6h0M567.5 104.9h0M549.8 138.1h0M638.6 112.6h0M589.4 104.8h0M578.6 143.8h0M551.3 115.8h0M557.8 132.3h0M614.4 102.0h0M555.3 109.6h0M574.6 124.9h0M544.4 142.1h0M622.9 100.1h0M600.7 115.7h0M562.4 126.4h0M577.9 123.8h0M563.4 112.0h0M629.6 102.4h0M614.4 117.4h0M547.5 142.4h0M576.7 113.5h0M588.6 139.3h0M645.8 137.5h0M589.9 100.7h0M548.1 113.7h0M571.2 117.0h0M598.6 99.6h0M630.1 101.0h0M581.8 139.5h0M544.2 118.6h0M575.6 108.8h0M618.0 101.2h0M575.5 113.7h0M583.8 102.8h0M601.5 109.8h0M570.9 141.6h0M631.8 108.1h0M617.2 114.8h0M574.7 143.1h0M640.0 136.9h0M553.1 135.5h0M641.7 114.2h0M606.4 142.6h0M646.4 117.1h0M586.6 107.9h0M541.4 132.6h0M648.0 110.7h0M570.7 119.1h0M570.6 115.3h0M638.9 144.1h0M558.3 139.3h0M550.5 118.2h0M636.7 116.6h0M579.7 107.1h0M582.5 110.0h0M649.6 143.4h0M570.6 107.5h0M591.1 109.5h0M640.7 116.1h0M624.4 124.6h0M583.9 144.9h0M647.4 110.5h0M641.6 124.9h0M569.6 117.2h0M628.4 110.0h0M548.1 123.7h0M550.4 140.4h0M579.2 109.0h0M647.0 109.2h0M537.6 126.5h0M634.8 122.0h0M588.0 111.4h0M555.8 145.2h0M611.8 114.3h0M607.0 110.1h0M637.1 119.5h0M575.2 113.4h0M637.6 105.4h0M588.3 114.5h0M624.9 136.7h0M635.4 111.8h0M640.7 96.1h0M618.7 120.8h0M557.8 126.8h0M616.3 116.9h0M631.2 120.0h0M628.8 97.1h0M644.4 146.4h0M545.4 125.0h0M583.8 133.8h0M648.5 132.5h0M629.7 131.8h0M604.3 122.4h0M640.0 122.2h0M553.9 115.6h0M641.5 119.2h0M641.8 98.3h0M548.3 119.8h0M617.0 139.0h0M562.2 122.6h0M581.3 103.6h0M581.5 136.0h0M584.1 101.3h0M640.4 101.5h0M623.7 115.4h0M582.3 142.6h0M576.5 110.2h0M605.9 114.1h0M574.9 105.5h0M601.4 109.5h0M635.5 105.0h0M582.8 103.3h0M584.4 105.2h0M628.2 122.7h0M583.7 144.8h0M639.3 100.0h0M564.0 134.4h0M568.0 120.4h0M625.6 104.3h0M601.1 110.1h0M629.6 109.6h0M541.2 133.2h0M639.4 107.2h0M626.7 109.2h0M636.7 101.0h0M626.9 98.1h0M577.8 115.8h0M555.0 117.6h0M570.9 108.7h0M623.9 96.3h0M607.8 145.5h0M569.5 113.1h0M556.0 122.4h0M614.4 102.6h0M576.5 117.8h0M614.7 126.7h0M619.7 104.3h0M634.4 110.1h0M625.6 134.3h0M584.3 120.8h0M629.8 116.7h0M588.2 111.6h0M595.9 100.4h0M563.0 115.8h0M580.5 120.5h0M541.9 125.2h0M601.2 138.9h0M622.9 98.7h0M622.3 104.4h0M555.1 144.9h0M560.3 110.4h0M551.1 136.5h0M640.8 105.2h0M591.7 121.8h0M644.5 103.5h0M584.1 117.8h0M642.1 125.1h0M598.1 121.3h0M600.3 128.4h0M634.9 122.3h0M592.1 130.6h0M619.7 97.5h0M629.9 101.9h0M566.0 109.1h0M632.6 129.6h0M595.8 127.7h0M585.7 130.0h0M642.1 119.4h0M559.8 144.1h0M597.2 108.6h0M603.7 123.7h0M611.8 117.5h0M626.5 101.5h0M624.4 142.1h0M626.5 98.0h0M560.0 114.4h0M576.1 109.8h0M575.3 140.4h0M600.6 110.8h0M576.7 131.6h0M630.6 100.7h0M624.9 107.1h0M574.4 141.8h0M618.6 110.5h0M585.1 103.7h0M600.6 133.8h0M580.4 143.5h0M605.8 143.9h0M590.5 140.8h0M541.4 138.5h0M551.5 116.3h0M623.8 115.9h0M629.9 127.5h0M593.8 123.2h0M547.7 139.0h0M538.8 134.2h0M567.1 108.9h0M641.5 111.7h0M605.2 129.3h0M585.3 134.6h0M647.0 103.7h0M609.0 114.8h0M574.7 104.5h0M642.0 111.2h0M588.8 136.6h0M610.0 108.7h0M630.6 117.0h0M582.6 105.7h0M588.6 126.9h0M572.4 120.0h0M605.9 119.0h0M638.1 99.8h0M631.7 118.5h0M613.8 107.1h0M635.8 106.8h0M605.1 119.3h0M601.4 145.6h0M560.2 111.5h0M609.4 107.6h0M644.8 108.1h0M577.9 117.4h0M577.7 141.2h0M617.7 143.8h0M556.7 112.8h0M604.8 104.7h0M642.0 146.5h0M582.4 118.4h0M642.4 99.4h0M612.5 111.0h0M604.5 130.9h0M646.3 104.9h0M616.1 104.6h0M604.0 107.1h0M590.8 107.4h0M621.4 130.3h0M651.0 144.2h0M634.1 144.3h0M569.3 142.5h0M633.4 104.0h0M581.8 113.5h0M626.0 122.4h0M555.0 132.6h0M572.7 111.9h0M566.2 135.6h0M582.4 112.0h0M571.5 111.5h0M632.5 144.7h0M614.4 136.5h0M610.9 109.8h0M554.9 133.2h0M642.9 107.1h0M590.4 145.4h0M626.2 104.9h0M612.8 110.2h0M616.4 119.3h0M593.3 100.7h0M602.1 129.5h0M582.6 105.4h0M553.6 144.2h0M605.1 102.5h0M619.6 146.1h0M633.8 107.4h0M581.6 107.5h0M640.2 111.2h0M617.4 114.8h0M547.9 137.2h0M559.4 109.4h0M565.0 116.2h0M554.5 112.7h0M619.7 100.8h0M578.6 117.0h0M596.9 110.8h0M603.9 135.4h0M637.9 117.1h0M606.0 116.2h0M583.5 114.9h0M544.9 131.6h0M621.9 99.3h0M641.5 109.8h0M552.4 141.4h0M586.3 124.4h0M590.2 114.8h0M635.3 100.5h0M611.3 102.7h0M641.3 123.6h0M601.6 133.5h0M597.7 119.3h0M599.0 131.8h0M634.8 117.0h0M547.0 120.6h0M612.9 102.2h0M564.5 127.8h0M574.3 132.5h0M547.8 130.1h0M623.0 106.9h0M569.8 108.4h0M644.4 97.3h0M625.9 134.3h0M637.4 116.5h0M634.0 113.3h0M619.8 110.4h0M629.4 120.6h0M647.8 146.1h0M640.0 135.0h0M621.6 126.3h0M581.8 145.6h0M587.3 110.6h0M551.2 137.9h0M581.2 101.3h0M639.7 103.2h0M623.7 106.4h0M632.5 136.0h0M612.0 136.6h0M604.7 145.4h0M554.8 115.5h0M544.1 118.3h0M543.9 119.9h0M643.3 135.5h0M552.1 112.1h0M548.5 147.5h0M552.7 134.1h0M622.9 98.1h0M606.0 106.5h0M550.3 130.6h0M569.1 121.4h0M576.7 137.8h0M565.5 117.7h0M639.3 108.4h0M606.9 111.1h0M535.6 142.0h0M597.9 101.2h0M638.7 146.4h0M564.2 116.8h0M602.3 104.2h0M610.9 120.2h0M617.1 125.8h0M550.6 116.6h0M603.3 124.7h0M552.5 115.0h0M618.0 103.4h0M567.6 136.9h0M574.9 138.2h0M538.5 133.4h0M608.6 100.7h0M583.2 111.1h0M562.2 114.9h0M604.7 98.2h0M572.6 133.4h0M613.4 104.4h0M625.1 146.7h0M545.7 119.2h0M595.8 110.8h0M563.4 114.4h0M561.9 107.6h0M619.2 108.3h0M626.8 115.7h0M620.1 113.2h0M620.2 128.6h0M641.0 96.2h0M594.2 123.5h0M578.9 125.0h0M638.1 98.5h0M597.1 101.1h0M557.1 126.2h0M607.2 146.6h0M630.4 96.1h0M646.6 107.6h0M553.3 125.4h0M557.6 141.4h0M581.7 106.7h0M586.1 110.4h0M640.6 109.5h0M626.0 142.9h0M612.2 105.0h0M616.2 108.1h0M568.3 111.7h0M640.7 138.2h0M626.2 102.4h0M606.5 105.9h0M631.9 106.4h0M590.0 114.8h0M581.9 102.9h0M620.0 133.3h0M630.6 112.0h0M553.7 115.8h0M615.0 122.8h0M620.2 98.8h0M608.1 145.0h0M575.0 114.7h0M606.4 106.3h0M583.3 113.9h0M552.1 127.2h0M556.6 113.9h0M571.7 132.9h0M546.6 118.1h0M602.9 107.5h0M593.9 110.5h0M573.2 108.8h0M537.5 131.8h0M562.1 110.8h0M560.4 146.2h0M632.2 101.1h0M549.5 115.0h0M563.5 119.3h0M582.4 119.6h0M621.1 119.3h0M546.7 124.2h0M625.6 116.2h0M634.8 102.8h0M590.4 122.6h0M581.4 107.3h0M586.6 124.7h0M582.3 109.8h0M612.6 147.5h0M582.5 107.7h0M620.6 113.9h0M614.2 118.8h0M585.1 106.2h0M581.0 112.8h0M572.7 113.0h0M635.5 106.6h0M566.4 106.8h0M565.5 115.6h0M568.2 121.3h0M581.0 146.8h0M559.8 111.8h0M599.6 117.3h0M582.3 103.8h0M573.6 106.4h0M580.0 113.3h0M561.3 126.7h0M623.0 109.4h0M546.9 130.7h0M571.5 111.2h0M634.9 125.0h0M554.4 136.6h0M564.1 141.7h0M613.5 103.5h0M579.2 141.7h0M639.3 143.3h0M599.1 114.2h0M633.5 129.3h0M646.5 131.4h0M623.6 96.7h0M612.8 142.3h0M619.5 132.7h0M608.3 146.6h0M558.5 130.8h0M629.8 147.3h0M562.7 125.0h0M606.6 137.1h0M635.4 125.5h0M613.2 140.3h0M622.7 103.5h0M537.4 139.0h0M609.5 132.4h0M543.7 132.4h0M593.3 115.5h0M625.4 122.4h0M623.5 99.8h0M590.7 114.0h0M613.3 114.7h0M636.8 99.4h0M638.9 105.0h0M607.8 99.6h0M641.2 139.4h0M572.7 104.3h0M630.7 145.4h0M596.2 147.1h0M564.5 122.7h0M579.0 118.3h0M628.0 120.9h0M626.5 98.3h0M587.1 121.9h0M565.8 105.3h0M564.7 107.8h0M639.7 131.0h0M565.9 116.3h0M596.2 123.5h0M633.2 107.2h0M581.0 135.4h0M534.8 129.9h0M585.7 134.0h0M588.3 119.0h0M608.5 116.3h0M574.3 120.1h0M536.3 133.6h0M610.8 137.7h0M620.4 100.7h0M565.9 111.9h0M646.4 103.3h0M638.0 138.0h0M639.1 123.5h0M638.5 134.4h0M581.9 113.9h0M586.3 105.0h0M621.6 117.7h0M565.7 119.2h0M594.2 139.3h0M614.4 109.5h0M622.7 116.6h0M626.7 144.1h0M576.7 105.4h0M621.1 147.0h0M595.0 146.3h0M616.0 104.2h0M597.8 108.4h0M631.1 140.1h0M597.7 109.1h0M574.5 134.0h0M614.0 115.7h0M553.1 115.4h0M608.2 122.5h0M635.9 98.1h0M593.2 102.2h0M637.3 127.2h0M538.0 130.7h0M597.6 135.7h0M645.9 114.0h0M625.3 102.3h0M565.0 122.6h0M580.9 139.8h0M559.7 146.1h0M617.9 104.7h0M543.2 143.1h0M631.3 116.2h0M605.8 104.6h0M545.6 131.8h0M564.9 127.9h0M595.9 103.1h0M630.3 97.3h0M620.6 104.7h0M635.4 125.5h0M564.2 141.8h0M640.1 97.1h0M596.8 105.8h0M635.0 111.5h0M597.8 106.8h0M633.8 126.4h0M585.0 109.6h0M564.9 108.2h0M584.0 111.0h0M551.8 111.4h0M542.0 130.2h0M551.4 125.0h0M537.7 135.3h0M647.4 105.6h0M619.5 107.8h0M601.8 130.7h0M599.9 110.7h0M557.5 142.4h0M561.0 107.0h0M595.8 99.2h0M583.5 132.0h0M607.2 141.0h0M579.9 113.3h0M539.3 126.8h0M610.0 111.5h0M642.3 97.5h0M647.2 113.9h0M608.3 109.4h0M610.7 101.3h0M617.4 133.7h0M608.5 146.0h0M539.1 128.9h0M623.4 109.9h0M564.8 113.6h0M576.2 124.0h0M600.0 113.8h0M603.5 111.3h0M544.7 122.7h0M579.8 122.4h0M557.2 116.3h0M607.9 115.1h0M540.8 127.9h0M583.4 112.4h0M579.0 146.6h0M630.9 102.9h0M643.0 113.9h0M580.2 118.5h0M571.6 111.8h0M566.5 135.5h0M635.4 113.6h0M639.2 101.0h0M612.0 122.1h0M617.5 136.5h0M540.4 142.0h0M537.1 137.5h0M615.7 131.0h0M589.7 110.8h0M539.0 133.3h0M593.0 116.8h0M573.7 107.4h0M644.8 102.9h0M570.1 142.0h0M629.4 133.6h0M553.9 116.0h0M581.5 109.8h0M610.1 105.6h0M577.1 105.2h0M635.5 145.8h0M613.9 102.6h0M571.6 135.6h0M554.6 111.4h0M626.8 100.5h0M564.6 113.4h0M550.8 122.1h0M584.7 101.1h0M632.3 99.2h0M582.3 104.0h0M636.9 108.3h0M570.9 138.2h0M566.8 123.9h0M644.9 106.0h0M542.2 140.3h0M558.9 116.2h0M587.4 147.3h0M624.3 143.5h0M543.7 118.2h0M614.9 136.5h0M581.8 110.4h0M548.3 147.1h0M620.6 146.9h0M615.3 100.7h0M543.4 118.9h0M564.3 117.9h0M628.0 120.1h0M607.2 123.3h0M542.4 147.5h0M564.1 133.0h0M544.1 140.3h0M612.6 112.2h0M638.4 105.2h0M592.0 127.0h0M626.7 119.2h0M605.6 115.8h0M582.4 122.8h0M640.1 126.3h0M543.4 119.2h0M549.3 117.1h0M590.9 134.0h0M594.2 123.0h0M577.9 131.2h0M572.0 105.5h0M560.9 137.9h0M600.2 130.4h0M637.3 146.4h0M535.2 138.8h0M642.7 122.8h0M631.8 145.6h0M649.2 135.4h0M630.5 122.5h0M579.2 111.4h0M606.9 143.4h0M620.2 142.9h0M608.3 128.2h0M586.5 103.1h0M591.8 100.9h0M598.1 98.5h0M643.4 113.1h0M566.0 119.6h0M602.9 108.6h0M596.7 132.7h0M632.5 101.9h0M643.6 107.4h0M601.2 104.1h0M554.0 120.1h0M643.1 120.6h0M592.2 145.7h0M624.5 130.0h0M640.9 125.5h0M609.8 130.9h0M555.9 113.6h0M555.5 140.6h0M544.9 122.7h0M596.8 120.3h0M569.4 104.2h0M569.0 120.3h0M568.9 120.0h0M605.6 146.7h0M559.5 123.8h0M550.8 119.0h0M564.5 115.6h0M588.1 120.1h0M634.1 116.6h0M606.7 144.9h0M623.3 113.6h0M636.0 96.2h0M625.0 145.2h0M564.1 145.9h0M551.8 142.6h0M548.7 114.7h0M549.5 131.9h0M562.4 142.0h0M602.8 115.2h0M543.0 131.7h0M625.8 134.1h0M649.0 146.2h0M616.9 122.6h0M567.4 107.3h0M593.6 103.6h0M552.2 119.6h0M576.7 110.8h0M556.9 114.4h0M581.0 138.2h0M576.2 102.4h0M590.3 133.4h0M643.6 141.9h0M639.6 143.0h0M543.6 139.8h0M609.1 106.7h0M555.5 109.0h0M622.2 111.9h0M595.6 141.1h0M544.5 134.5h0M569.3 108.5h0M556.5 119.9h0M556.5 138.9h0M570.3 115.8h0M572.7 130.4h0M560.3 124.2h0M597.6 129.8h0M587.7 134.1h0M632.6 144.2h0M540.5 123.2h0M564.7 128.4h0M628.9 113.2h0M591.4 117.0h0M618.0 138.8h0M569.5 118.3h0M605.4 139.8h0M578.5 126.1h0M548.2 117.0h0M576.3 106.0h0M566.2 115.9h0M615.1 108.1h0M606.2 137.3h0M611.9 99.0h0M577.9 115.4h0M597.5 131.3h0M626.4 121.1h0M590.5 114.8h0M645.3 134.7h0M609.7 137.3h0M587.1 126.2h0M584.6 114.8h0M632.4 136.5h0M577.0 117.4h0M616.6 109.8h0M622.8 103.0h0M639.8 102.0h0M603.2 117.1h0M631.2 101.8h0M614.1 117.3h0M540.2 132.1h0M541.0 133.9h0M647.1 142.2h0M613.4 110.6h0M609.4 116.2h0M543.3 123.9h0M568.1 113.6h0M545.6 147.3h0M613.5 111.3h0M541.6 123.3h0M544.4 119.2h0M604.6 131.4h0M635.5 100.2h0M558.1 134.9h0M636.4 104.8h0M559.8 111.5h0M627.7 96.6h0M592.6 119.2h0M564.8 125.1h0M551.5 132.7h0M539.7 128.7h0M646.2 138.2h0M557.9 147.3h0M619.5 116.2h0M571.9 126.7h0M588.1 122.6h0M620.8 121.0h0M551.5 146.4h0M639.4 138.9h0M617.4 142.7h0M589.0 128.6h0M598.8 107.1h0M577.2 126.7h0M614.3 110.4h0M630.3 142.8h0M583.3 108.0h0M589.5 114.2h0M587.2 117.7h0M545.9 115.9h0M629.4 124.6h0M635.4 107.0h0M591.7 114.0h0M631.8 111.1h0M619.7 145.0h0M593.3 107.6h0M640.5 107.0h0M639.3 117.3h0M570.3 110.7h0M576.0 113.1h0M575.6 118.9h0M549.7 120.2h0M573.4 129.3h0M631.4 99.0h0M550.9 120.3h0M572.8 103.7h0M557.4 128.8h0M557.7 114.7h0M619.5 114.1h0M605.1 133.2h0M598.3 145.3h0M584.0 103.9h0M585.4 131.7h0M622.0 109.0h0M634.8 112.2h0M631.6 118.5h0M543.4 127.0h0M630.2 141.3h0M619.7 101.7h0M638.5 108.8h0M546.4 122.7h0M575.2 124.7h0M590.6 101.9h0M633.2 104.6h0M554.1 125.2h0M623.5 133.7h0M641.2 140.6h0M644.5 141.2h0M595.5 113.9h0M644.0 130.6h0M545.2 133.4h0M574.3 121.0h0M575.4 144.1h0M549.5 117.5h0M619.2 111.3h0M611.3 112.8h0M633.4 107.3h0M594.6 116.7h0M606.6 113.9h0M553.6 111.8h0M564.8 116.3h0M600.6 130.7h0M590.7 102.8h0M563.3 136.8h0M556.6 133.5h0M613.5 116.0h0M573.3 116.0h0M571.5 113.3h0M642.4 120.0h0M621.5 146.6h0M618.1 136.8h0M628.4 107.3h0M603.5 106.9h0M623.3 103.6h0M550.9 123.2h0M643.0 114.8h0M584.1 102.2h0M602.3 101.0h0M548.8 143.2h0M624.3 124.3h0M603.2 114.2h0M615.3 110.7h0M557.5 116.3h0M646.0 110.7h0M557.0 109.1h0M553.7 112.7h0M605.3 104.7h0M579.8 123.8h0M601.9 113.4h0M651.7 146.6h0M586.5 109.9h0M546.9 120.8h0M631.6 122.6h0M541.6 127.0h0M589.5 127.7h0M638.6 143.0h0M621.2 97.4h0M538.3 131.7h0M590.4 102.6h0M634.6 105.8h0M629.8 107.0h0M645.1 103.1h0M592.0 118.2h0M622.9 128.4h0M621.5 113.4h0M594.7 127.0h0M551.9 139.3h0M580.9 106.5h0M609.0 119.1h0M571.7 117.5h0M630.1 107.3h0M641.9 118.7h0M559.8 113.9h0M624.7 131.7h0M641.8 97.9h0M636.8 96.0h0M542.1 127.7h0M581.7 104.1h0M574.5 112.0h0M624.1 137.1h0M624.4 141.0h0M571.3 121.8h0M594.4 141.4h0M557.2 121.3h0M557.5 112.7h0M638.5 100.5h0M606.2 99.3h0M592.0 112.9h0M578.9 137.2h0M624.4 117.4h0M549.9 129.5h0M610.0 100.3h0M543.1 144.9h0M582.6 132.2h0M580.9 112.6h0M593.3 136.2h0M639.6 96.3h0M606.2 141.0h0M595.0 145.8h0M603.2 142.4h0M618.0 142.1h0M611.4 107.2h0M547.9 136.1h0M626.1 108.0h0M637.3 109.9h0M558.4 112.0h0M634.9 103.7h0M599.7 112.3h0M621.0 145.1h0M597.5 99.7h0M640.6 110.3h0M548.7 116.8h0M623.7 109.4h0M610.6 113.8h0M607.6 100.9h0M594.4 106.1h0M624.8 131.8h0M580.1 106.2h0M590.6 122.2h0M634.4 125.8h0M632.8 100.4h0M590.0 106.2h0M570.5 105.1h0M618.1 133.2h0M605.8 118.4h0M631.3 117.3h0M632.3 98.2h0M557.3 117.4h0M561.8 132.1h0M539.7 140.4h0M589.4 115.6h0M600.1 112.1h0M588.4 95.8h0M537.2 124.7h0M551.7 110.5h0M600.2 94.6h0M579.3 101.2h0M644.9 95.0h0M637.3 95.3h0M576.6 100.9h0M562.7 102.6h0M585.6 99.0h0M601.5 97.0h0M612.8 94.2h0M641.9 95.2h0M604.2 97.3h0M599.0 95.6h0M548.9 109.4h0M545.6 113.9h0M537.9 122.7h0M571.2 102.6h0M595.5 96.8h0M548.2 111.5h0M551.2 111.1h0M591.4 96.7h0M541.9 116.4h0M582.5 97.1h0M571.2 100.1h0M537.3 121.1h0M559.5 103.4h0M557.0 105.1h0M606.9 96.5h0" stroke="#0000ff" stroke-width="2.5" stroke-linecap="round" fill="none"/>
<path d="M574.3 130.3h0M562.5 143.2h0M615.5 134.4h0M636.9 135.7h0M559.7 139.8h0M547.5 141.5h0M577.8 127.1h0M619.6 140.0h0M586.7 124.5h0M633.1 129.2h0M614.2 146.1h0M630.9 145.8h0M562.3 140.5h0M578.3 139.1h0M595.5 127.4h0M591.7 135.0h0M593.2 133.1h0M601.4 144.8h0M572.4 125.4h0M591.4 124.1h0M634.2 123.4h0M575.5 127.3h0M559.3 125.0h0M590.7 129.9h0M624.2 126.6h0M556.1 129.8h0M580.8 131.5h0M563.1 135.8h0M592.2 140.1h0M555.4 135.3h0M569.0 140.1h0M554.4 129.7h0M624.1 127.9h0M544.6 138.8h0M624.6 133.4h0M549.6 138.4h0M631.9 136.3h0M592.4 144.4h0M617.4 128.8h0M611.2 138.1h0M615.4 123.6h0M584.3 129.2h0M576.1 135.8h0M599.4 121.3h0M567.6 141.3h0M608.0 121.1h0M590.1 142.1h0M542.4 137.4h0M554.0 124.9h0M620.7 135.0h0M637.6 123.4h0M558.4 123.4h0M623.5 122.0h0M603.7 137.8h0M548.6 145.5h0M626.9 146.1h0M594.8 120.7h0M577.7 127.0h0M600.1 134.9h0M624.2 136.5h0M594.8 128.3h0M611.5 120.4h0M629.2 145.3h0M616.9 138.3h0M626.2 146.1h0" stroke="#999999" stroke-width="2.0" stroke-linecap="round" fill="none"/>
<path d="M563.6 146.5l1.1 -2.2h-2.2zM563.5 146.5l1.1 -2.2h-2.2zM538.0 146.5l1.1 -2.2h-2.2zM545.3 146.5l1.1 -2.2h-2.2zM607.1 146.5l1.1 -2.2h-2.2zM540.3 146.5l1.1 -2.2h-2.2zM588.9 146.5l1.1 -2.2h-2.2zM611.2 146.5l1.1 -2.2h-2.2zM569.6 146.5l1.1 -2.2h-2.2zM617.2 146.5l1.1 -2.2h-2.2zM556.0 146.5l1.1 -2.2h-2.2zM553.8 146.5l1.1 -2.2h-2.2zM564.1 146.5l1.1 -2.2h-2.2zM566.0 146.5l1.1 -2.2h-2.2zM612.2 146.5l1.1 -2.2h-2.2zM568.1 146.5l1.1 -2.2h-2.2zM611.5 146.5l1.1 -2.2h-2.2zM547.6 146.5l1.1 -2.2h-2.2zM556.2 146.5l1.1 -2.2h-2.2zM564.1 146.5l1.1 -2.2h-2.2zM626.7 146.5l1.1 -2.2h-2.2zM568.2 146.5l1.1 -2.2h-2.2zM546.8 146.5l1.1 -2.2h-2.2zM545.0 146.5l1.1 -2.2h-2.2zM600.2 146.5l1.1 -2.2h-2.2zM552.4 146.5l1.1 -2.2h-2.2zM611.2 146.5l1.1 -2.2h-2.2zM549.6 146.5l1.1 -2.2h-2.2zM572.3 146.5l1.1 -2.2h-2.2zM623.7 146.5l1.1 -2.2h-2.2zM603.1 146.5l1.1 -2.2h-2.2zM541.2 146.5l1.1 -2.2h-2.2zM603.4 146.5l1.1 -2.2h-2.2zM625.0 146.5l1.1 -2.2h-2.2z" stroke="#0000ff" stroke-width="0.6" fill="none"/>
<path d="M650.7 98.3h0M654.3 105.7h0M661.0 107.2h0M652.9 116.0h0M657.3 124.2h0M652.1 132.3h0M650.7 136.7h0M662.0 107.5h0M678.4 112.0h0M673.9 128.3h0M677.5 135.2h0M706.7 135.6h0M713.0 130.1h0M657.5 124.7h0" stroke="#0000ff" stroke-width="2.5" stroke-linecap="round" fill="none"/>
<path d="M589.5 75.7h0M580.7 72.5h0M581.8 80.5h0M588.7 68.1h0M586.6 80.5h0M627.6 77.8h0M577.7 74.0h0M584.3 78.5h0M624.6 77.9h0M572.1 63.9h0M573.4 71.8h0M621.7 75.1h0M612.3 74.2h0M613.3 78.8h0M622.0 76.3h0M595.1 74.3h0M568.6 66.6h0M617.8 77.4h0M566.2 73.2h0M627.2 75.6h0M575.7 76.6h0M578.9 69.1h0M605.9 77.2h0M561.4 66.9h0M611.1 71.4h0M580.5 79.7h0M625.8 77.9h0M623.6 81.3h0M606.4 77.0h0M575.9 66.4h0M598.4 79.8h0M578.8 66.6h0M596.8 69.3h0M566.5 73.9h0M629.0 82.4h0M565.1 73.0h0M569.1 65.3h0M590.0 73.4h0M605.8 79.0h0M604.8 81.5h0M598.8 69.9h0M609.2 80.5h0M564.6 74.0h0M603.1 75.5h0M573.9 67.2h0M630.4 80.7h0M584.2 78.6h0M581.3 74.3h0M628.7 79.3h0M609.6 76.2h0M577.6 74.4h0M623.0 82.1h0M625.2 77.3h0M561.8 71.7h0M577.4 72.3h0M613.7 77.1h0M606.0 72.0h0M586.3 79.7h0M577.3 77.0h0M620.9 75.5h0M572.1 63.3h0M593.5 78.7h0M570.5 65.4h0M565.9 64.7h0M595.8 79.3h0M604.0 77.8h0M578.5 77.0h0M631.2 81.9h0M602.3 80.0h0M602.2 70.9h0M563.1 63.1h0M614.4 82.7h0M582.3 77.9h0M581.9 67.3h0M575.2 64.8h0M602.4 79.6h0M570.4 70.8h0M605.1 82.5h0M620.3 75.5h0M578.9 64.6h0M601.7 72.0h0M597.0 68.4h0M620.9 81.4h0M562.0 65.6h0M603.2 70.4h0M595.7 72.9h0M630.6 81.4h0M606.6 82.0h0M607.5 78.8h0M573.8 73.4h0M584.9 79.8h0M590.2 79.7h0M617.8 78.6h0M593.5 68.7h0M620.8 75.5h0M572.0 72.7h0M564.0 72.9h0M582.4 69.5h0M622.0 80.4h0M595.9 71.6h0M580.4 66.8h0M581.3 80.8h0M616.2 79.6h0M619.6 76.4h0M612.9 78.3h0M570.2 74.5h0M567.5 64.0h0M630.6 82.8h0M599.7 81.9h0M617.7 77.8h0M576.3 63.0h0M603.2 74.0h0M602.4 76.0h0M629.1 78.6h0M604.1 72.3h0M563.8 62.5h0M604.5 72.9h0M625.2 76.3h0M589.1 67.2h0M582.6 68.2h0M577.2 77.5h0M574.4 65.6h0M611.4 79.4h0M610.4 82.7h0M570.1 64.4h0M593.1 79.4h0M604.4 73.6h0M582.6 71.2h0M614.4 73.9h0M622.5 82.6h0M595.1 79.2h0M604.2 80.9h0M608.4 71.5h0M604.1 75.3h0M587.2 78.6h0" stroke="#0000ff" stroke-width="2.5" stroke-linecap="round" fill="none"/>
<path d="M539.4 40.5h0M560.1 43.5h0M569.7 37.6h0M546.1 51.6h0M555.0 56.0h0M549.1 59.5h0M554.9 62.8h0M558.2 63.6h0M553.2 69.4h0M545.7 51.5h0M573.1 53.7h0M573.4 55.3h0M594.5 56.7h0M584.9 58.0h0M573.1 55.7h0M579.7 60.3h0M584.7 58.7h0M588.8 62.8h0M609.7 70.5h0M640.8 80.6h0M563.2 60.3h0M568.1 63.6h0M547.0 67.0h0M551.0 71.0h0" stroke="#0000ff" stroke-width="2.5" stroke-linecap="round" fill="none"/>
<path d="M545.7 30.0l1.1 2.2h-2.2z" stroke="#0000ff" stroke-width="0.6" fill="none"/>
<line x1="478.0" y1="89.1" x2="722.3" y2="89.1" stroke="#626262" stroke-width="2.8"/>
</g>
<rect x="478.0" y="28.6" width="244.29999999999995" height="121.4" fill="none" stroke="#555555" stroke-width="1.3"/>
<line x1="471.0" y1="40.4" x2="478.0" y2="40.4" stroke="#555555" stroke-width="1.1"/>
<text x="464.3" y="40.4" font-size="9.5" fill="#222" text-anchor="middle" transform="rotate(-90 464.3 40.4)">2</text>
<line x1="471.0" y1="64.6" x2="478.0" y2="64.6" stroke="#555555" stroke-width="1.1"/>
<text x="464.3" y="64.6" font-size="9.5" fill="#222" text-anchor="middle" transform="rotate(-90 464.3 64.6)">1</text>
<line x1="471.0" y1="88.8" x2="478.0" y2="88.8" stroke="#555555" stroke-width="1.1"/>
<text x="464.3" y="88.8" font-size="9.5" fill="#222" text-anchor="middle" transform="rotate(-90 464.3 88.8)">0</text>
<line x1="471.0" y1="113.0" x2="478.0" y2="113.0" stroke="#555555" stroke-width="1.1"/>
<text x="464.3" y="113.0" font-size="9.5" fill="#222" text-anchor="middle" transform="rotate(-90 464.3 113.0)">&#8722;1</text>
<line x1="471.0" y1="137.2" x2="478.0" y2="137.2" stroke="#555555" stroke-width="1.1"/>
<text x="464.3" y="137.2" font-size="9.5" fill="#222" text-anchor="middle" transform="rotate(-90 464.3 137.2)">&#8722;2</text>
<line x1="483.5" y1="150.0" x2="483.5" y2="155.8" stroke="#555555" stroke-width="1.1"/>
<text x="483.5" y="170.6" font-size="9.4" fill="#222" text-anchor="middle">1e&#8722;02</text>
<line x1="534.3" y1="150.0" x2="534.3" y2="155.8" stroke="#555555" stroke-width="1.1"/>
<text x="534.3" y="170.6" font-size="9.4" fill="#222" text-anchor="middle">1e+00</text>
<line x1="585.3" y1="150.0" x2="585.3" y2="155.8" stroke="#555555" stroke-width="1.1"/>
<text x="585.3" y="170.6" font-size="9.4" fill="#222" text-anchor="middle">1e+02</text>
<line x1="636.2" y1="150.0" x2="636.2" y2="155.8" stroke="#555555" stroke-width="1.1"/>
<text x="636.2" y="170.6" font-size="9.4" fill="#222" text-anchor="middle">1e+04</text>
<line x1="687.0" y1="150.0" x2="687.0" y2="155.8" stroke="#555555" stroke-width="1.1"/>
<text x="687.0" y="170.6" font-size="9.4" fill="#222" text-anchor="middle">1e+06</text>
<text x="599.9" y="192.5" font-size="9.25" fill="#222" text-anchor="middle" textLength="112.6" lengthAdjust="spacingAndGlyphs">mean of normalized counts</text>
<text x="443.0" y="89.3" font-size="9.05" fill="#222" text-anchor="middle" textLength="64.6" lengthAdjust="spacingAndGlyphs" transform="rotate(-90 443.0 89.3)">log fold change</text></g>
<g class="ma"><text x="458.6" y="246.0" font-size="14" fill="#262626" textLength="15.0" lengthAdjust="spacingAndGlyphs">(c)</text>
<text x="599.6" y="234.5" font-size="10.45" fill="#111" text-anchor="middle" font-weight="bold" textLength="81.6" lengthAdjust="spacingAndGlyphs">Peyer&#8217;s Patches</text>
<clipPath id="cc"><rect x="478.0" y="253.6" width="244.29999999999995" height="122.00000000000003"/></clipPath>
<g clip-path="url(#cc)">
<path d="M485.0 314.2L486.0 312.0L495.0 309.0L501.6 304.5L508.0 300.5L512.0 296.0L516.0 291.3L519.0 284.0L530.0 281.0L545.0 282.0L560.0 285.0L580.0 288.5L600.0 291.0L620.0 292.5L640.0 293.5L660.0 294.0L675.0 295.0L685.0 299.0L692.0 305.0L697.0 311.0L700.0 314.2Z" fill="#999999"/>
<path d="M593.9 289.3h0M525.8 277.3h0M534.6 272.4h0M525.9 281.3h0M560.5 282.1h0M566.7 279.5h0M565.3 279.6h0M525.9 273.4h0M566.8 272.5h0M533.7 263.5h0M528.3 260.8h0M541.3 276.7h0M545.8 269.9h0M563.5 266.2h0M582.5 281.2h0M523.5 271.4h0M534.7 260.0h0M527.4 275.2h0M563.0 284.7h0M584.9 287.5h0M552.4 280.7h0M564.1 275.9h0M527.8 278.6h0M564.3 285.5h0M564.5 275.7h0M564.4 273.3h0M535.5 280.3h0M555.4 271.7h0M574.8 275.6h0M581.9 280.1h0M542.6 268.2h0M546.6 270.5h0M563.9 266.1h0M526.2 264.8h0M527.9 273.0h0M551.1 280.3h0M598.1 288.0h0M557.0 281.3h0M581.4 285.0h0M566.9 268.4h0M535.7 271.8h0M554.3 269.6h0M598.5 290.4h0M551.0 281.8h0M562.3 264.6h0M566.7 271.4h0M544.5 280.0h0M562.4 278.4h0M550.7 270.3h0M576.4 279.9h0M532.7 277.7h0M566.6 274.7h0M528.8 259.8h0M530.8 279.0h0M569.3 282.6h0M562.1 264.1h0M542.0 274.0h0M593.6 290.0h0M570.2 274.6h0M571.4 286.8h0M578.5 282.0h0M565.3 284.2h0M547.7 277.1h0M545.4 280.0h0M584.1 284.2h0M568.7 271.8h0M583.8 285.6h0M567.6 285.1h0M596.1 288.2h0M560.2 269.5h0M556.2 262.8h0M564.5 278.8h0M556.6 283.6h0M526.5 271.8h0M590.3 289.1h0M588.5 283.6h0M543.2 275.2h0M551.4 282.3h0M551.6 268.9h0M543.3 260.2h0M582.2 279.8h0M594.1 290.1h0M598.5 290.4h0M578.2 282.5h0M546.5 275.7h0M528.4 259.6h0M545.9 276.6h0M555.9 282.1h0M588.0 283.0h0M559.9 283.4h0M578.2 285.7h0M562.8 279.0h0M557.7 281.8h0M580.4 284.5h0M528.4 264.4h0M597.0 286.5h0M538.4 278.9h0M535.3 260.4h0M522.4 275.6h0M549.1 282.2h0M552.3 268.4h0M526.6 264.0h0M539.1 262.2h0M560.0 278.4h0M544.3 276.9h0M563.4 279.8h0M587.3 284.9h0M587.3 281.0h0M551.1 276.7h0M526.5 274.7h0M553.4 261.2h0M540.6 270.5h0M584.3 287.7h0M540.0 263.0h0M588.6 283.6h0M596.5 290.1h0M534.5 275.5h0M536.7 269.5h0M564.0 281.6h0M584.1 283.1h0M555.5 275.7h0M580.3 286.2h0M537.1 276.2h0M561.7 269.0h0M531.2 267.8h0M554.0 276.7h0M533.5 258.0h0M543.1 278.3h0M549.9 281.0h0M553.1 268.2h0M530.5 269.4h0M576.1 278.4h0M579.8 284.5h0M538.0 266.9h0M558.7 282.2h0M586.0 282.9h0M540.6 280.3h0M536.0 276.9h0M583.0 285.5h0M549.4 272.2h0M560.8 275.1h0M572.6 274.3h0M553.6 280.2h0M548.1 270.2h0M535.3 265.3h0M542.5 266.2h0M574.0 285.2h0M562.4 272.9h0M543.3 260.5h0M543.1 259.0h0M547.1 258.1h0M542.2 265.3h0M572.4 277.1h0M562.6 266.4h0M552.2 263.3h0M529.5 260.0h0M571.8 283.0h0M545.1 271.3h0M522.1 274.6h0M585.3 287.1h0M548.9 278.5h0M543.9 276.3h0M563.0 273.7h0M567.3 276.0h0M587.4 287.8h0M541.7 272.7h0M555.4 272.2h0M571.8 280.5h0M538.2 261.4h0M542.3 272.1h0M597.5 286.9h0M529.4 279.3h0M566.3 274.6h0M542.8 269.6h0M584.4 286.0h0M578.5 284.6h0M569.3 282.8h0M545.8 266.1h0M560.6 275.6h0M571.2 271.6h0M579.5 283.2h0M544.1 280.4h0M532.3 270.5h0M563.2 285.0h0M569.5 273.4h0M524.0 279.0h0M559.2 270.7h0M542.1 278.2h0M532.0 274.4h0M540.2 268.8h0M543.0 275.8h0M528.4 280.9h0M535.3 276.8h0M579.1 284.5h0M588.0 284.1h0M559.0 273.4h0M557.3 275.6h0M531.0 274.8h0M579.6 287.6h0M538.5 266.1h0M520.1 282.4h0M596.8 286.3h0M563.3 280.8h0M563.0 284.3h0M559.9 268.1h0M532.7 276.6h0M522.2 282.8h0M548.2 266.6h0M557.4 278.5h0M581.5 279.6h0M583.7 288.0h0M534.9 264.8h0M530.8 274.3h0M556.6 275.6h0M576.2 274.1h0M546.4 271.6h0M577.3 282.8h0M555.2 278.3h0M567.0 269.5h0M560.3 270.3h0M531.6 260.4h0M596.6 284.5h0M545.6 277.3h0M587.3 287.2h0M553.4 273.5h0M536.6 269.9h0M524.2 276.2h0M534.0 272.8h0M574.9 281.6h0M552.6 265.4h0M590.1 282.4h0M563.7 276.8h0M540.2 277.8h0M521.6 281.7h0M596.6 288.8h0M546.9 267.7h0M545.9 262.2h0M560.7 267.9h0M579.6 279.7h0M565.8 274.2h0M552.7 259.9h0M556.5 283.3h0M560.9 280.4h0M559.8 283.1h0M546.7 282.2h0M560.3 275.1h0M555.8 264.6h0M552.8 270.0h0M526.0 274.8h0M548.1 280.2h0M560.9 272.4h0M561.6 265.9h0M566.5 267.8h0M533.9 257.9h0M533.3 262.7h0M523.2 276.9h0M564.1 274.4h0M533.9 277.8h0M546.3 271.2h0M543.6 267.1h0M572.5 275.2h0M561.1 275.3h0M529.7 274.6h0M532.1 269.9h0M563.1 281.0h0M556.5 264.4h0M599.2 287.2h0M555.2 270.9h0M572.8 285.2h0M538.6 280.4h0M552.4 276.9h0M535.5 273.3h0M538.1 269.4h0M555.5 278.1h0M538.6 267.5h0M558.4 270.5h0M547.5 273.7h0M572.8 279.3h0M561.4 271.4h0M533.5 266.2h0M531.6 264.6h0M526.0 277.1h0M556.3 280.8h0M567.0 281.7h0M533.5 278.1h0M523.6 271.6h0M580.6 286.2h0M554.2 282.0h0M545.7 277.9h0M552.3 266.6h0M590.1 284.7h0M532.3 274.6h0M539.0 266.4h0M595.4 284.4h0M566.2 277.2h0M572.4 272.1h0M566.3 283.7h0M539.6 272.8h0M579.6 286.7h0M573.2 277.7h0M569.2 276.8h0M543.6 276.1h0M562.9 279.4h0M539.7 276.2h0M572.0 286.6h0M531.9 278.7h0M575.5 283.0h0M523.2 273.3h0M520.4 280.0h0M564.2 281.0h0M531.2 274.4h0M571.9 276.7h0M549.1 265.0h0M544.6 272.3h0M576.0 279.5h0M555.2 266.3h0M574.0 278.8h0M554.0 275.0h0M538.7 268.2h0M572.5 279.7h0M578.2 284.3h0M571.6 280.1h0M551.6 274.3h0M532.7 264.8h0M544.0 277.1h0M555.7 280.6h0M561.5 278.6h0M545.2 260.2h0M555.9 279.4h0M573.4 279.6h0M527.7 269.2h0M528.8 264.8h0M535.7 272.7h0M585.6 288.3h0M532.4 268.7h0M524.9 279.6h0M588.8 284.2h0M574.5 278.3h0M554.7 282.0h0M529.1 275.0h0M586.7 283.0h0M544.7 278.6h0M543.6 278.2h0M552.6 266.5h0M539.3 261.7h0M533.5 280.9h0M543.9 262.5h0M558.3 282.6h0M531.1 277.9h0M521.8 275.4h0M565.1 283.5h0M562.5 282.2h0M577.5 286.6h0M542.6 258.6h0M574.0 280.3h0M580.8 286.2h0M525.9 279.4h0M523.3 273.7h0M545.0 277.2h0M576.4 276.8h0M559.0 274.2h0M529.4 259.2h0M523.9 273.5h0M564.8 277.9h0M539.6 259.2h0M544.1 274.4h0M548.1 279.3h0M595.7 287.1h0M557.8 271.5h0M577.0 280.2h0M552.1 278.3h0M544.7 261.4h0M583.2 284.9h0M563.2 274.8h0M525.9 264.7h0M584.7 283.6h0M599.8 290.5h0M548.2 278.5h0M528.5 267.7h0M571.4 272.6h0M530.8 263.1h0M577.1 285.7h0M588.2 285.7h0M544.7 273.3h0M566.4 285.0h0M556.8 276.4h0M538.6 275.6h0M527.9 266.4h0M531.2 260.1h0M558.9 279.8h0M552.3 282.2h0M520.1 283.5h0M531.3 276.5h0M549.2 270.2h0M557.9 277.7h0M533.3 258.4h0M591.9 285.0h0M549.3 275.3h0M531.1 274.1h0M543.1 276.2h0M548.4 266.2h0M550.7 265.9h0M555.7 280.1h0M524.0 280.7h0M547.6 276.7h0M570.2 279.7h0M587.3 289.3h0M578.4 278.7h0M589.8 282.8h0M552.3 261.6h0M526.8 268.1h0M560.7 267.8h0M555.7 271.5h0M595.2 284.3h0M541.1 278.9h0M537.6 275.6h0M525.0 269.9h0M573.5 281.8h0M534.6 280.6h0M589.5 283.9h0M565.9 267.0h0M578.9 284.9h0M566.1 269.1h0M536.6 274.6h0M562.1 270.0h0M532.3 279.4h0M548.1 275.6h0M529.6 269.5h0M559.3 272.5h0M549.4 278.2h0M526.2 274.8h0M543.3 270.2h0M531.9 269.9h0M538.9 276.9h0M554.0 260.1h0M593.6 284.1h0M542.3 258.0h0M551.4 260.3h0M534.0 276.1h0M596.2 285.5h0M595.7 287.3h0M535.9 272.1h0M521.0 282.0h0M559.4 282.9h0M584.5 284.5h0M563.3 278.4h0M567.5 284.6h0M594.2 288.7h0M527.6 273.6h0M588.2 285.0h0M557.4 264.3h0M524.9 280.1h0M574.2 273.4h0M565.2 279.5h0M567.9 271.8h0M590.0 283.7h0M530.9 276.1h0M553.7 276.2h0M543.3 280.4h0M562.1 271.4h0M528.5 268.6h0M565.9 270.7h0M539.3 266.2h0M587.2 281.2h0M552.9 260.5h0M599.6 290.4h0M556.0 265.6h0M599.4 290.8h0M532.2 274.4h0M549.1 264.3h0M529.0 267.2h0M586.0 287.4h0M584.2 285.8h0M579.8 286.1h0M570.3 272.7h0M563.4 270.6h0M586.5 281.4h0M578.0 287.5h0M540.8 266.6h0M549.6 281.6h0M533.9 269.4h0M562.3 272.6h0M530.1 267.6h0M546.1 269.9h0M585.1 288.4h0M549.7 269.3h0M560.1 284.3h0M561.7 279.9h0M541.3 274.0h0M539.0 264.7h0M536.7 273.2h0M586.3 288.9h0M548.4 260.9h0M528.9 280.7h0M536.5 281.1h0M552.4 269.7h0M537.4 260.7h0M527.6 280.2h0M592.7 285.9h0M574.3 285.9h0M597.0 288.5h0M536.3 264.9h0M564.3 281.1h0M584.7 281.6h0M588.6 289.0h0M582.5 288.4h0M571.0 286.0h0M564.2 279.0h0M547.9 268.9h0M538.2 257.9h0M541.2 276.4h0M578.6 277.7h0M534.6 280.2h0M525.6 265.2h0M569.8 271.5h0M542.4 261.9h0M527.0 277.2h0M549.8 278.6h0M552.8 273.0h0M550.6 272.6h0M527.3 269.4h0M526.6 281.1h0M528.3 280.6h0M576.0 274.3h0M584.3 285.3h0M583.0 281.0h0M578.7 281.1h0M584.5 281.1h0M576.3 281.3h0M539.7 279.9h0M532.5 270.6h0M520.1 282.1h0M562.8 273.5h0M524.5 275.9h0M550.7 269.9h0M532.4 278.0h0M531.2 273.2h0M558.7 270.5h0M574.2 278.6h0M592.4 288.6h0M544.6 278.0h0M529.6 270.4h0M529.3 275.3h0M569.5 270.1h0M554.0 276.1h0M569.8 285.4h0M560.8 273.7h0M596.8 289.0h0M588.8 287.2h0M534.5 271.9h0M575.0 273.7h0M530.3 267.0h0M563.2 274.9h0M580.6 281.2h0M582.5 279.5h0M591.1 284.1h0M555.7 260.8h0M539.9 278.6h0M596.8 284.5h0M573.9 279.8h0M574.0 278.4h0M527.0 272.7h0M527.0 276.4h0M576.4 275.5h0M545.2 271.6h0M524.7 268.8h0M560.2 280.1h0M527.0 271.0h0M556.8 279.8h0M598.6 284.7h0M525.3 271.4h0M551.9 263.6h0M563.8 275.3h0M529.6 280.5h0M560.3 282.4h0M525.1 272.2h0M562.4 269.3h0M546.3 272.5h0M560.2 278.3h0M554.4 262.9h0M554.0 277.5h0M550.1 259.0h0M555.8 273.3h0M539.3 269.7h0M541.9 275.6h0M560.5 283.3h0M536.3 273.0h0M579.1 288.1h0M568.0 284.2h0M551.6 279.6h0M589.6 289.2h0M550.4 270.0h0M580.5 286.9h0M541.5 263.9h0M581.5 283.2h0M566.5 284.5h0M535.9 276.5h0M581.2 278.5h0M531.9 266.7h0M588.8 282.8h0M520.5 281.6h0M525.8 276.9h0M540.3 270.5h0M597.2 289.1h0M536.8 268.9h0M570.9 285.5h0M535.4 279.2h0M530.9 262.9h0M539.4 277.1h0M556.5 280.7h0M594.0 285.5h0M544.2 262.4h0M535.6 277.2h0M554.2 270.5h0M561.3 267.2h0M562.9 285.3h0M572.8 285.5h0M549.8 274.5h0M551.1 259.1h0M549.3 262.2h0M556.9 263.1h0M572.7 282.0h0M592.3 288.2h0M556.4 278.3h0M549.3 267.4h0M550.0 273.0h0M588.5 284.6h0M525.8 268.9h0M569.8 276.9h0M561.2 272.3h0M522.7 272.3h0M569.3 270.6h0M558.0 277.2h0M535.4 259.1h0M550.3 266.8h0M575.5 279.5h0M580.3 281.0h0M599.7 289.2h0M521.9 278.0h0M552.2 258.6h0M547.1 262.3h0M553.2 282.6h0M571.4 273.4h0M580.1 285.2h0M545.0 270.6h0M546.8 268.0h0M573.6 280.1h0M568.8 283.5h0M546.6 279.7h0M543.0 279.1h0M537.9 264.6h0M585.0 288.9h0M559.6 272.2h0M586.7 281.5h0M532.1 279.2h0M565.0 284.1h0M561.2 271.8h0M542.0 269.1h0M578.3 287.3h0M534.2 269.6h0M598.4 288.7h0M545.6 260.0h0M544.7 270.3h0M592.8 285.0h0M540.4 275.2h0M523.2 274.8h0M524.6 269.5h0M547.7 279.5h0M537.6 278.6h0M556.6 275.9h0M524.9 270.9h0M530.8 277.0h0M531.8 281.1h0M568.2 284.3h0M575.7 274.1h0M566.1 282.9h0M544.1 269.7h0M550.5 265.7h0M533.6 278.8h0M540.7 268.3h0M533.9 279.1h0M527.7 271.7h0M598.2 289.4h0M540.3 275.8h0M562.2 275.0h0M594.4 287.1h0M567.4 273.8h0M534.7 272.7h0M541.3 276.0h0M543.8 270.7h0M551.6 259.2h0M570.6 279.0h0M559.6 264.8h0M572.8 280.5h0M529.6 268.0h0M561.3 275.9h0M533.4 263.9h0M567.1 271.0h0M549.6 271.9h0M541.5 272.6h0M547.8 267.4h0M561.4 278.5h0M535.3 266.4h0M565.1 284.2h0M537.8 277.1h0M575.0 286.7h0M559.0 272.2h0M551.9 265.1h0M585.5 286.9h0M534.7 274.2h0M558.4 276.2h0M551.6 274.6h0M533.3 276.2h0M583.6 288.7h0M590.8 283.7h0M544.6 261.2h0M594.8 287.1h0M549.9 276.8h0M560.8 269.5h0M566.4 281.1h0M584.9 287.7h0M531.7 260.8h0M589.9 283.1h0M535.8 267.7h0M580.2 279.5h0M553.2 262.1h0M554.2 265.2h0M570.2 277.9h0M570.6 282.2h0M530.4 280.2h0M551.3 269.6h0M533.8 271.7h0M531.6 275.5h0M525.6 279.1h0M572.0 278.2h0M579.7 284.3h0M538.5 261.4h0M558.8 280.5h0M548.4 269.0h0M526.7 268.0h0M548.4 263.3h0M569.8 279.0h0M563.5 269.5h0M552.8 280.2h0M594.6 287.7h0M564.5 276.1h0M552.0 261.2h0M584.8 282.0h0M590.3 288.9h0M566.2 271.1h0M560.9 280.7h0M559.6 284.7h0M576.9 276.2h0M536.8 260.2h0M540.0 269.7h0M546.2 281.0h0M550.0 270.1h0M527.3 280.6h0M538.4 266.6h0M528.2 264.2h0M582.0 278.9h0M528.6 276.8h0M573.7 283.5h0M566.7 285.3h0M563.0 283.1h0M530.1 279.3h0M544.1 273.8h0M550.6 278.3h0M536.8 261.2h0M549.2 277.3h0M548.4 263.0h0M556.3 280.5h0M542.0 262.2h0M556.6 266.9h0M525.2 274.7h0M559.6 284.3h0M551.7 269.0h0M549.0 267.5h0M541.4 272.0h0M560.2 284.8h0M527.4 280.0h0M580.9 279.7h0M541.5 278.6h0M579.5 278.6h0M566.7 278.5h0M573.2 284.3h0M536.9 271.4h0M526.1 266.4h0M550.8 274.4h0M559.2 269.0h0M547.0 263.7h0M533.2 265.5h0M540.0 267.5h0M556.3 261.6h0M564.9 283.0h0M574.7 283.2h0M555.5 262.0h0M567.8 281.9h0M539.2 259.5h0M544.8 275.9h0M576.7 286.0h0M576.0 280.4h0M523.2 273.6h0M532.3 258.9h0M594.1 285.4h0M574.8 273.4h0M570.9 283.3h0M551.4 271.3h0M597.3 290.5h0M524.7 275.7h0M579.5 277.0h0M580.7 283.2h0M562.2 277.1h0M527.5 264.9h0M526.8 266.2h0M591.6 283.8h0M579.3 278.8h0M571.1 279.3h0M553.5 279.6h0M527.8 271.2h0M534.9 281.2h0M561.7 277.8h0M557.9 270.7h0M585.3 283.3h0M574.4 283.2h0M576.8 276.6h0M595.9 284.9h0M560.6 269.6h0M529.4 262.2h0M595.6 284.6h0M548.6 263.2h0M560.5 272.3h0M567.9 272.2h0M538.5 260.6h0M548.6 279.5h0M529.5 262.7h0M565.7 269.1h0M551.8 262.4h0M570.3 284.4h0M570.5 271.1h0M545.6 267.9h0M555.6 272.5h0M571.6 278.9h0M547.2 281.0h0M519.9 283.5h0M544.3 260.4h0M536.6 260.7h0M562.7 279.7h0M563.6 267.4h0M574.5 281.6h0M577.0 285.4h0M534.5 281.0h0M566.4 277.3h0M593.4 289.7h0M579.9 281.9h0M528.5 276.6h0M545.7 279.7h0M556.6 272.3h0M530.6 279.9h0M547.9 282.5h0M566.5 283.9h0M565.9 278.1h0M574.8 276.5h0M584.4 281.4h0M591.4 284.4h0M559.5 273.0h0M582.6 287.9h0M573.3 282.3h0M561.3 277.1h0M551.0 282.0h0M569.2 281.8h0M536.1 271.9h0M520.3 280.6h0M524.1 272.8h0M527.9 268.9h0M572.4 279.0h0M567.2 278.9h0M541.6 264.1h0M574.0 285.7h0M594.6 286.9h0M528.4 262.6h0M595.9 286.4h0M541.1 265.1h0M547.2 280.3h0M543.4 262.9h0M531.6 274.1h0M551.6 274.3h0M545.0 276.3h0M596.5 286.5h0M570.5 281.3h0M546.0 263.6h0M548.1 260.7h0M590.0 288.7h0M557.1 276.4h0M544.3 266.2h0M562.4 277.9h0M564.7 284.0h0M598.5 287.8h0M551.7 280.6h0M590.5 285.7h0M584.2 283.0h0M540.5 278.4h0M592.9 283.4h0M570.3 275.3h0M579.9 284.7h0M587.5 287.4h0M580.0 287.9h0M553.8 283.2h0M595.4 288.8h0M580.4 283.4h0M563.6 267.4h0M539.3 280.6h0M593.2 285.9h0M566.9 269.2h0M589.6 289.0h0M568.0 281.9h0M592.7 283.7h0M572.3 283.5h0M546.0 262.6h0M577.2 286.9h0M574.8 286.3h0M599.0 288.3h0M563.9 269.2h0M545.2 274.7h0M543.5 272.0h0M524.4 268.4h0M529.9 275.1h0M561.4 273.3h0M533.6 269.2h0M570.4 277.1h0M589.6 286.1h0M551.9 280.9h0M570.5 280.4h0M542.1 266.9h0M563.8 282.5h0M562.7 266.2h0M598.9 284.7h0M561.4 267.1h0M574.4 275.7h0M571.8 273.7h0M534.4 266.2h0M573.0 284.6h0M526.6 266.6h0M559.0 278.4h0M547.1 269.8h0M548.3 278.7h0M524.0 278.2h0M530.6 268.7h0M543.1 264.1h0M552.8 277.7h0M545.4 277.2h0M530.8 267.8h0M528.4 281.2h0M569.0 280.4h0M554.0 268.7h0M535.2 279.0h0M554.3 259.1h0M547.9 278.7h0M549.0 260.6h0M545.5 265.9h0M566.7 283.9h0M549.5 267.6h0M528.4 259.9h0M589.5 285.7h0M571.1 275.2h0M547.8 267.7h0M566.6 278.1h0M531.4 267.5h0M556.9 274.9h0M554.3 266.9h0M564.5 268.4h0M570.4 278.1h0M550.4 281.5h0M556.6 274.3h0M534.2 273.5h0M579.6 279.1h0M593.5 289.4h0M524.6 273.9h0M571.7 283.4h0M583.3 284.1h0M548.5 278.2h0M590.9 285.9h0M558.9 283.8h0M547.7 273.3h0M540.1 259.6h0M532.2 277.8h0M556.0 265.7h0M558.3 272.6h0M525.1 281.2h0M572.4 277.1h0M567.5 279.2h0M562.3 270.2h0M550.8 261.9h0M551.2 271.0h0M582.1 287.4h0M587.1 282.0h0M586.3 289.2h0M560.9 266.2h0M531.8 280.9h0M564.8 276.8h0M556.1 270.8h0M523.8 281.7h0M530.8 279.7h0M542.8 278.4h0M579.9 278.1h0M576.5 282.8h0M522.7 282.7h0M552.7 272.5h0M526.6 270.2h0M552.4 257.8h0M589.9 289.6h0M541.0 268.2h0M556.0 283.8h0M579.3 281.9h0M575.1 275.3h0M565.4 281.4h0M555.4 280.5h0M571.7 277.2h0M540.2 280.3h0M540.4 272.6h0M576.9 282.3h0M560.9 280.1h0M537.0 266.1h0M526.2 263.5h0M552.8 281.2h0M531.1 274.0h0M526.0 279.7h0M548.4 267.7h0M525.1 274.7h0M556.3 284.1h0M593.5 287.2h0M583.4 281.7h0M570.7 274.0h0M581.7 278.0h0M566.2 268.1h0M571.0 274.2h0M550.5 282.6h0M556.5 283.8h0M562.8 285.3h0M595.1 288.2h0M586.2 285.9h0M534.3 268.4h0M547.8 275.8h0M583.7 281.0h0M534.0 259.5h0M539.2 265.7h0M572.9 287.1h0M576.9 283.7h0M548.9 277.2h0M577.6 281.3h0M537.0 269.2h0M520.1 282.5h0M546.3 262.7h0M581.0 285.4h0M561.9 271.4h0M579.8 282.9h0M532.3 263.0h0M555.0 283.0h0M537.1 277.2h0M571.8 271.8h0M533.7 261.9h0M598.6 285.2h0M574.0 284.5h0M561.6 267.8h0M534.0 259.4h0M541.8 274.5h0M541.1 262.8h0M535.6 272.3h0M565.8 280.0h0M539.3 279.2h0M595.0 284.0h0M577.4 278.0h0M566.0 271.0h0M576.3 282.5h0M586.2 286.8h0M566.5 284.0h0M550.2 278.5h0M543.8 279.6h0M590.5 285.9h0M562.4 279.3h0M550.3 279.8h0M553.9 264.0h0M544.5 268.7h0M541.9 277.6h0M530.4 265.2h0M559.1 274.3h0M578.7 288.2h0M543.0 272.3h0M581.7 280.0h0M587.4 282.2h0M585.0 284.8h0M572.7 285.5h0M563.3 271.8h0M531.8 274.6h0M556.7 269.9h0M525.9 271.1h0M591.1 286.5h0M532.6 267.2h0M525.0 270.7h0M568.2 282.1h0M530.6 280.5h0M587.5 281.3h0M568.0 280.8h0M542.1 279.9h0M558.3 269.0h0M560.9 273.7h0M570.6 280.0h0M532.0 270.0h0M572.8 274.1h0M570.4 286.2h0M563.1 278.3h0M540.8 270.2h0M547.6 275.9h0M544.2 258.5h0M547.0 270.3h0M595.0 287.1h0M562.9 279.2h0M540.3 264.5h0M544.2 269.9h0M560.4 281.8h0M597.4 289.0h0M548.6 273.1h0M550.5 278.3h0M570.8 278.0h0M596.4 287.5h0M541.1 281.6h0M555.3 270.5h0M527.8 264.4h0M551.4 277.9h0M566.7 275.9h0M574.0 286.0h0M544.5 269.8h0M537.3 275.7h0M544.0 257.7h0M532.5 265.4h0M563.0 284.9h0M574.0 276.3h0M565.3 285.6h0M529.6 258.9h0M587.0 286.1h0M597.3 285.2h0M578.6 287.5h0M527.1 275.7h0M543.0 265.1h0M556.3 260.6h0M543.4 274.1h0M542.2 278.6h0M564.4 276.0h0M552.5 278.6h0M564.2 279.7h0M572.7 278.4h0M572.2 273.4h0M549.4 276.9h0M530.3 260.1h0M552.8 277.4h0M529.9 278.9h0M581.1 284.2h0M545.1 273.9h0M580.4 285.7h0M544.7 281.9h0M527.7 276.3h0M593.0 289.8h0M573.2 280.1h0M537.8 262.2h0M562.0 282.1h0M527.8 266.7h0M559.1 264.6h0M558.1 284.0h0M548.5 260.1h0M570.8 283.1h0M554.0 275.6h0M569.2 270.5h0M554.8 267.0h0M566.0 278.5h0M578.3 277.6h0M550.3 282.3h0M583.8 279.5h0M571.5 280.8h0M583.3 282.4h0M568.8 285.9h0M536.4 260.0h0M578.5 282.1h0M553.1 277.4h0M596.7 290.3h0M555.3 272.7h0M552.5 278.6h0M570.8 280.4h0M552.6 283.5h0M550.7 258.8h0M576.5 287.8h0M585.2 289.0h0M521.4 282.5h0M560.3 266.7h0M528.8 281.3h0M550.2 276.5h0M566.2 272.0h0M550.6 278.0h0M558.3 275.5h0M519.9 283.2h0M561.0 280.3h0M520.5 282.4h0M557.8 267.3h0M525.7 267.0h0M577.2 276.9h0M575.8 279.6h0M588.8 286.6h0M569.0 284.7h0M545.1 270.7h0M540.1 275.7h0M521.3 280.6h0M572.0 283.6h0M554.6 265.1h0M543.2 264.2h0M554.4 275.9h0M528.8 268.4h0M535.0 259.5h0M523.0 275.3h0M564.8 266.5h0M531.1 272.3h0M550.4 276.5h0M543.9 262.2h0M555.0 275.3h0M528.4 273.4h0M529.3 260.2h0M541.2 267.1h0M553.1 280.7h0M560.2 265.2h0M562.2 269.0h0M540.1 262.8h0M547.3 263.1h0M564.4 282.2h0M545.8 271.1h0M558.0 267.1h0M539.8 268.3h0M552.5 271.8h0M590.0 286.1h0M550.0 258.7h0M582.0 286.6h0M564.7 281.4h0M548.9 273.0h0M558.0 280.5h0M535.1 273.7h0M550.2 261.3h0M573.1 282.9h0M540.0 266.7h0M530.7 261.6h0M543.7 263.4h0M551.8 279.3h0M580.1 285.0h0M523.5 273.4h0M550.8 281.6h0M538.0 274.4h0M535.8 269.7h0M524.7 277.1h0M585.7 288.7h0M563.2 279.2h0M537.0 273.5h0M561.5 264.2h0" stroke="#999999" stroke-width="2.0" stroke-linecap="round" fill="none"/>
<path d="M519.3 281.6h0M504.0 298.8h0M523.2 267.0h0M514.0 293.3h0M517.2 285.3h0M506.3 296.9h0M519.7 272.9h0M524.5 266.7h0M518.4 276.8h0M515.2 281.8h0M495.1 305.5h0M515.5 281.8h0M520.8 277.2h0M503.5 301.2h0M507.6 297.2h0M526.9 261.3h0M523.7 269.4h0M514.4 289.8h0M492.5 306.7h0M502.7 302.8h0M510.6 291.3h0M496.2 305.7h0M514.7 287.4h0M517.9 285.0h0M504.8 300.6h0M489.6 310.1h0M517.8 285.2h0M514.8 287.4h0M512.4 289.1h0M509.3 293.2h0M509.6 297.2h0M517.4 280.6h0M513.6 288.7h0M505.3 300.4h0M514.6 288.4h0M496.5 306.6h0M501.3 301.2h0M501.0 301.6h0M508.3 295.8h0M512.7 292.4h0M513.2 294.0h0M497.4 304.2h0M520.5 275.3h0M523.2 266.3h0M517.8 284.9h0M514.6 287.8h0M494.6 305.9h0M499.0 303.6h0M525.6 263.4h0M497.5 306.9h0M515.0 283.5h0M518.6 283.5h0M521.4 275.3h0M510.7 292.6h0M505.7 299.4h0M495.6 307.9h0M503.5 300.5h0M512.1 290.3h0M522.4 267.7h0M516.6 285.2h0M518.6 279.6h0M496.6 304.6h0M498.5 306.2h0M508.5 294.6h0M517.5 282.4h0M514.2 285.4h0M516.4 290.2h0M510.7 293.1h0M508.6 297.6h0M507.4 294.0h0M495.2 308.7h0M500.1 303.6h0M513.9 284.3h0M519.6 278.6h0M497.5 306.3h0M502.3 299.9h0M520.6 271.2h0M515.0 284.1h0M521.8 272.8h0M522.7 270.9h0" stroke="#999999" stroke-width="2.0" stroke-linecap="round" fill="none"/>
<path d="M672.2 288.2h0M606.9 289.5h0M646.2 282.0h0M610.9 278.9h0M687.2 291.2h0M620.9 278.4h0M660.7 282.6h0M613.9 278.0h0M621.6 280.5h0M656.1 281.1h0M630.5 285.4h0M648.1 288.5h0M634.1 286.6h0M679.9 289.8h0M576.3 266.6h0M600.4 277.3h0M661.0 289.6h0M613.6 272.5h0M629.0 276.7h0M600.8 290.5h0M669.5 285.5h0M581.5 270.2h0M675.8 284.0h0M634.0 288.5h0M637.4 277.4h0M595.8 272.8h0M641.2 290.7h0M574.7 266.0h0M630.1 277.7h0M575.2 265.1h0M659.4 291.3h0M652.9 291.4h0M592.5 269.0h0M571.0 269.1h0M582.8 272.4h0M620.0 285.3h0M672.5 284.3h0M689.1 298.5h0M635.1 277.9h0M651.8 277.3h0M574.5 272.0h0M667.1 286.0h0M630.7 278.6h0M670.0 292.5h0M618.4 274.8h0M664.4 289.0h0M598.0 277.8h0M629.4 277.0h0M602.9 290.6h0M636.1 282.3h0M682.7 292.1h0M614.4 288.2h0M591.7 270.2h0M604.1 285.8h0M644.4 286.0h0M671.3 290.1h0M581.4 267.4h0M623.1 274.6h0M579.0 266.5h0M679.7 286.0h0M648.8 285.8h0M613.4 289.9h0M673.6 284.0h0M634.1 280.0h0M634.3 285.1h0M649.9 280.0h0M597.9 272.3h0M598.9 279.1h0M638.3 278.0h0M635.2 285.1h0M620.0 290.4h0M645.5 284.4h0M664.8 287.8h0M671.3 284.0h0M599.7 279.5h0M599.8 284.0h0M582.4 269.8h0M647.5 292.9h0M684.3 293.1h0M602.0 271.9h0M614.3 286.7h0M615.4 283.7h0M642.4 288.5h0M602.3 271.9h0M594.7 271.3h0M595.9 279.6h0M609.7 291.0h0M580.2 267.3h0M607.3 282.4h0M654.4 284.2h0M663.2 282.2h0M615.5 275.9h0M602.0 280.0h0M630.5 285.9h0M649.7 280.2h0M668.1 294.0h0M574.5 264.3h0M583.3 268.9h0M688.7 298.8h0M644.2 293.0h0M619.9 288.4h0M573.3 270.4h0M654.2 282.4h0M656.2 281.7h0M583.8 266.4h0M637.8 280.1h0M579.6 267.7h0M632.7 287.3h0M611.3 285.7h0M624.6 281.8h0M573.5 269.6h0M608.8 285.1h0M635.1 283.2h0M592.8 282.1h0M573.6 266.4h0M586.9 279.6h0M657.8 286.5h0M608.1 278.8h0M608.2 283.3h0M624.2 290.8h0M572.8 266.0h0M630.3 280.7h0M684.6 297.2h0M590.4 277.9h0M604.8 274.3h0M662.0 290.0h0M636.7 278.7h0M629.4 289.7h0M637.0 287.8h0M598.5 283.0h0M655.6 282.6h0M599.5 281.4h0M653.6 280.7h0M675.3 283.0h0M600.8 271.5h0M638.7 291.7h0M625.8 289.8h0M642.3 288.8h0M582.8 268.1h0M636.4 279.5h0M588.0 272.1h0M667.2 281.7h0M660.1 292.7h0M580.5 276.9h0M586.5 266.9h0M586.1 269.6h0M648.2 290.4h0M627.8 291.9h0M644.5 293.4h0M602.6 281.5h0M602.8 289.7h0M611.7 280.0h0M686.2 298.5h0M589.7 277.5h0M582.0 273.3h0M649.3 291.3h0M681.1 295.7h0M631.4 284.6h0M663.6 287.8h0M600.1 274.7h0M601.0 288.6h0M613.0 278.2h0M616.0 275.9h0M644.6 279.4h0M568.3 266.9h0M629.6 285.7h0M611.0 284.8h0M578.8 266.8h0M608.1 274.8h0M621.7 289.8h0M604.8 283.4h0M605.4 273.2h0M581.3 273.0h0M652.5 287.3h0M650.9 287.9h0M601.8 282.0h0M603.9 272.1h0M573.1 266.8h0M671.5 294.0h0M631.8 275.2h0M690.3 295.6h0M601.1 284.3h0M654.6 278.1h0M602.2 272.3h0M604.7 290.2h0M673.3 293.3h0M639.8 293.3h0M589.2 274.0h0M598.6 284.4h0M620.6 279.8h0M605.1 275.3h0M604.0 272.1h0M629.9 289.8h0M581.1 274.5h0M587.3 272.0h0M643.3 283.0h0M652.0 278.8h0M661.5 286.1h0M628.0 275.9h0M643.2 288.9h0M652.5 291.1h0M622.7 276.0h0M683.2 297.3h0M628.1 288.0h0M608.1 272.0h0M565.1 265.5h0M630.5 292.2h0M621.5 281.5h0M586.1 271.8h0M683.7 292.7h0M631.9 290.9h0M674.8 284.0h0M688.1 298.9h0M606.1 288.3h0M688.7 302.1h0M590.0 275.7h0M593.7 281.0h0M667.4 282.0h0M603.6 280.5h0M592.7 280.9h0M614.4 285.9h0M684.8 298.7h0M671.9 293.6h0M664.4 293.2h0M640.2 282.9h0M633.1 286.5h0M604.1 282.5h0M661.5 280.5h0M656.2 278.8h0M656.5 279.0h0M690.8 298.5h0M600.9 275.7h0M585.1 274.2h0M634.8 289.1h0M663.6 286.4h0M602.5 288.0h0M586.9 271.5h0M601.8 272.9h0M600.7 282.0h0M618.0 289.7h0M654.7 293.5h0M679.7 296.6h0M589.0 280.8h0M676.2 286.3h0M635.3 288.7h0M568.9 264.4h0M648.1 291.1h0M642.6 288.9h0M601.3 287.4h0M604.1 279.1h0M684.6 297.5h0M611.7 284.8h0M628.4 285.7h0M591.1 269.3h0M598.7 279.1h0M659.3 290.8h0M673.4 293.8h0M652.0 282.1h0M678.9 285.0h0M648.8 277.8h0M649.3 282.6h0M620.0 275.3h0M671.2 287.2h0M648.2 286.6h0M641.3 288.5h0M661.3 279.5h0M615.8 274.8h0M643.6 280.4h0M577.8 269.2h0M590.9 270.6h0M587.8 277.8h0M653.7 281.1h0M631.5 275.2h0M656.1 290.7h0M601.5 280.4h0M585.3 267.5h0M621.8 282.4h0M626.5 282.9h0M644.8 277.9h0M614.2 283.6h0M663.1 288.1h0M627.3 281.1h0M568.9 268.5h0M611.5 289.7h0M623.8 276.0h0M648.1 285.1h0M600.1 286.6h0M626.8 277.6h0M653.8 289.1h0M660.2 286.6h0M677.0 290.2h0M594.1 275.4h0M588.2 269.6h0M624.3 291.9h0M579.5 271.5h0M573.5 272.1h0M622.9 288.0h0M600.0 273.3h0M569.7 268.7h0M640.5 291.1h0M594.3 276.4h0M668.0 287.8h0M599.4 275.1h0M673.4 291.1h0M603.4 271.7h0M601.9 283.9h0M632.5 289.7h0M601.6 274.3h0M611.3 284.6h0M645.8 290.8h0M632.8 278.8h0M611.0 279.4h0M638.5 289.2h0M639.7 285.6h0M600.0 273.0h0M630.9 275.1h0M642.3 287.7h0M644.8 288.0h0M626.0 282.7h0M625.5 287.1h0M581.1 265.6h0M583.8 269.7h0M600.5 275.5h0M638.6 280.9h0M627.9 286.3h0M567.4 265.9h0M584.2 269.9h0M591.8 277.6h0M646.8 282.5h0M639.9 287.5h0M608.3 277.4h0M618.8 280.2h0M612.2 285.8h0M616.9 275.0h0M675.8 284.5h0M653.8 282.3h0M633.4 278.0h0M604.1 276.3h0M592.9 270.3h0M649.4 278.3h0M615.9 286.3h0M615.6 288.5h0M584.2 277.9h0M672.5 292.8h0M659.9 280.3h0M659.9 288.2h0M605.4 279.2h0M593.6 282.5h0M689.7 294.1h0M614.3 288.9h0M613.7 279.7h0M584.7 268.4h0M602.2 270.9h0M604.9 283.1h0M673.0 287.7h0M615.7 284.0h0M620.6 281.8h0M691.0 300.5h0M633.2 284.1h0M617.0 273.1h0M681.7 295.3h0M613.0 274.5h0M600.3 275.4h0M647.5 292.9h0M600.2 274.4h0M566.0 263.3h0M625.6 279.7h0M583.5 267.1h0M630.1 281.7h0M585.4 276.9h0M604.3 271.0h0M670.8 282.4h0M604.8 291.2h0M686.3 295.5h0M652.0 280.4h0M662.7 284.4h0M588.3 267.8h0M597.5 282.4h0M669.3 281.4h0M609.9 291.4h0M588.5 278.2h0M677.1 286.0h0M623.0 291.9h0M671.3 294.1h0M687.6 293.9h0M658.6 282.6h0M639.2 278.6h0M585.3 273.7h0M583.6 272.2h0M616.5 287.5h0M644.1 292.8h0M640.3 288.2h0M671.5 287.0h0M567.2 266.2h0M602.6 282.6h0M646.1 287.2h0M663.4 286.5h0M681.8 295.7h0M634.6 280.8h0M671.1 289.2h0M614.0 278.9h0M642.6 289.4h0M690.9 301.5h0M677.6 285.5h0M643.5 290.3h0M594.7 278.6h0M623.2 287.3h0M680.1 296.7h0M578.4 267.8h0M585.3 268.7h0M600.5 272.2h0M626.4 285.6h0M633.2 286.0h0M634.2 277.0h0M594.5 279.2h0M599.5 282.8h0M602.7 270.9h0M605.3 278.0h0M635.3 281.5h0M587.3 270.4h0M593.2 271.6h0M592.7 274.1h0M595.5 282.1h0M660.5 280.2h0M667.2 293.2h0M582.8 269.5h0M681.5 286.3h0M624.8 290.4h0M638.5 280.6h0M599.0 283.1h0M620.8 279.5h0M668.3 282.4h0M658.1 278.1h0M677.4 294.9h0M632.4 288.4h0M610.8 291.0h0M610.9 282.6h0M653.3 292.7h0M611.8 275.6h0M634.7 282.8h0M680.6 293.5h0M603.4 291.0h0M596.6 273.6h0M641.1 280.9h0M604.6 279.2h0M615.5 273.9h0M612.6 275.7h0M647.4 289.9h0M652.2 292.1h0M685.8 298.9h0M618.2 286.0h0M638.9 278.7h0M666.5 288.9h0M644.1 277.7h0M682.9 291.3h0M690.6 297.8h0M660.8 290.1h0M639.0 286.9h0M688.8 291.2h0M645.4 287.5h0M600.2 270.8h0" stroke="#999999" stroke-width="2.0" stroke-linecap="round" fill="none"/>
<path d="M484.0 313.9h0M526.8 258.3h0M513.9 282.3h0M514.9 281.6h0M483.0 312.1h0M485.1 313.3h0M488.8 307.2h0M511.6 287.6h0M508.5 291.3h0M510.8 288.3h0M521.8 266.6h0M516.2 279.4h0M524.2 261.3h0M526.9 260.0h0M495.7 303.7h0M485.4 311.1h0M524.4 261.2h0M512.0 286.9h0M527.9 258.1h0M484.4 309.9h0M483.7 311.7h0M486.2 308.9h0" stroke="#999999" stroke-width="2.0" stroke-linecap="round" fill="none"/>
<line x1="486" y1="311.0" x2="503" y2="311.0" stroke="#999999" stroke-width="1.4"/>
<line x1="494" y1="306.8" x2="510" y2="306.8" stroke="#999999" stroke-width="1.4"/>
<line x1="501" y1="302.8" x2="512" y2="302.8" stroke="#999999" stroke-width="1.4"/>
<line x1="506" y1="298.5" x2="514" y2="298.5" stroke="#999999" stroke-width="1.4"/>
<path d="M708.5 311.4h0M702.7 293.6h0M697.2 307.6h0M710.2 307.9h0M706.1 299.6h0M691.9 300.2h0M695.8 299.6h0M696.6 289.5h0M692.7 302.4h0M698.3 299.5h0M707.5 305.7h0M692.8 289.0h0M699.9 311.3h0M709.8 301.0h0M694.0 295.7h0M693.4 290.6h0M692.7 287.1h0M704.0 313.8h0M708.5 302.8h0M702.6 310.0h0M704.9 300.2h0M696.7 290.2h0M703.1 314.2h0M700.3 311.3h0M698.2 305.6h0M694.5 292.2h0M702.5 295.1h0" stroke="#999999" stroke-width="2.0" stroke-linecap="round" fill="none"/>
<path d="M706.7 289.5h0M705.8 306.8h0M712.0 298.0h0M698.0 288.0h0M703.0 296.0h0M709.0 311.0h0" stroke="#999999" stroke-width="2.0" stroke-linecap="round" fill="none"/>
<path d="M529.0 256.2l1.1 2.2h-2.2zM531.0 256.2l1.1 2.2h-2.2zM533.0 256.2l1.1 2.2h-2.2zM535.0 256.2l1.1 2.2h-2.2zM537.0 256.2l1.1 2.2h-2.2zM539.0 256.2l1.1 2.2h-2.2zM541.0 256.2l1.1 2.2h-2.2zM543.0 256.2l1.1 2.2h-2.2zM545.0 256.2l1.1 2.2h-2.2zM547.0 256.2l1.1 2.2h-2.2zM549.0 256.2l1.1 2.2h-2.2zM551.0 256.2l1.1 2.2h-2.2zM553.0 256.2l1.1 2.2h-2.2zM560.0 256.2l1.1 2.2h-2.2zM566.0 256.2l1.1 2.2h-2.2zM577.0 256.2l1.1 2.2h-2.2zM583.0 256.2l1.1 2.2h-2.2zM600.0 256.2l1.1 2.2h-2.2zM611.0 256.2l1.1 2.2h-2.2zM624.0 256.2l1.1 2.2h-2.2zM664.0 256.2l1.1 2.2h-2.2zM683.0 256.2l1.1 2.2h-2.2z" stroke="#999999" stroke-width="0.6" fill="none"/>
<path d="M565.5 256.2l1.1 2.2h-2.2zM568.0 256.2l1.1 2.2h-2.2zM570.0 256.2l1.1 2.2h-2.2zM575.0 256.2l1.1 2.2h-2.2zM578.5 256.2l1.1 2.2h-2.2zM580.5 256.2l1.1 2.2h-2.2zM595.0 256.2l1.1 2.2h-2.2zM603.0 256.2l1.1 2.2h-2.2zM612.0 256.2l1.1 2.2h-2.2zM621.0 256.2l1.1 2.2h-2.2zM630.0 256.2l1.1 2.2h-2.2zM652.0 256.2l1.1 2.2h-2.2zM669.0 256.2l1.1 2.2h-2.2zM687.0 256.2l1.1 2.2h-2.2z" stroke="#0000ff" stroke-width="0.6" fill="none"/>
<path d="M620.6 293.8h0M612.0 260.4h0M650.3 272.3h0M622.4 269.5h0M580.4 263.7h0M589.3 268.0h0M695.3 282.6h0M646.7 265.6h0M640.0 268.3h0M642.7 261.5h0M672.6 268.7h0M576.0 260.5h0M611.4 261.5h0M647.5 267.0h0M623.5 270.1h0M637.4 267.3h0M644.6 279.7h0M619.8 291.8h0M652.8 290.1h0M618.8 266.4h0M595.4 270.7h0M604.9 286.5h0M588.7 272.4h0M631.5 272.4h0M690.4 300.9h0M689.7 290.3h0M651.4 283.7h0M683.2 284.2h0M654.0 286.9h0M623.2 264.4h0M571.2 279.6h0M645.8 282.8h0M610.1 279.3h0M676.1 289.8h0M594.0 276.3h0M628.6 275.1h0M682.0 272.7h0M639.3 287.1h0M649.1 272.0h0M699.7 283.0h0M648.1 271.3h0M691.8 299.1h0M624.5 262.8h0M625.8 271.1h0M648.5 278.0h0M599.1 269.6h0M640.8 280.3h0M609.9 267.4h0M582.9 260.5h0M668.6 282.9h0M582.8 269.1h0M673.7 282.7h0M688.8 263.4h0M564.8 273.0h0M658.1 295.6h0M668.5 281.5h0M656.8 279.0h0M667.4 292.8h0M655.4 268.2h0M652.3 264.0h0M590.6 291.3h0M666.8 270.8h0M589.8 286.7h0M650.2 283.8h0M613.8 265.8h0M657.1 287.6h0M608.6 291.0h0M688.3 296.0h0M678.2 278.0h0M638.2 283.2h0M622.7 281.7h0M584.2 270.8h0M636.6 278.6h0M662.2 269.2h0M648.3 273.0h0M610.5 285.6h0M586.8 265.5h0M692.2 273.1h0M565.9 269.5h0M661.2 289.5h0M653.0 265.1h0M592.0 271.5h0M634.4 288.3h0M594.4 276.9h0M646.2 286.6h0M680.1 297.8h0M678.4 295.3h0M606.8 279.2h0M671.1 289.2h0M685.9 281.4h0M685.0 279.9h0M687.0 297.2h0M677.1 292.2h0M690.7 279.1h0M679.7 262.9h0M659.4 275.4h0M688.5 272.4h0M605.8 268.0h0M686.9 297.1h0M604.5 269.5h0M587.4 272.7h0M636.8 295.7h0M576.0 284.2h0M646.1 273.0h0M692.9 276.2h0M689.0 270.4h0M692.2 273.4h0M635.7 263.3h0M615.6 264.1h0M626.0 272.4h0M683.3 268.1h0M608.8 263.6h0M642.2 290.8h0M571.7 271.4h0M642.2 283.4h0M624.2 269.3h0M591.9 274.4h0M630.2 263.9h0M644.9 262.5h0M684.2 290.9h0M677.3 298.7h0M694.1 301.5h0M593.8 272.0h0M601.5 278.7h0M641.0 281.4h0M670.3 294.2h0M685.5 264.0h0M655.9 287.1h0M655.5 274.7h0M665.9 262.4h0M647.5 276.2h0M600.3 288.4h0M628.9 286.3h0M585.7 264.3h0M682.5 263.9h0M638.1 273.4h0M644.6 262.2h0M697.3 297.2h0M613.8 260.5h0M643.3 270.4h0M600.5 267.2h0" stroke="#0000ff" stroke-width="2.5" stroke-linecap="round" fill="none"/>
<path d="M616.3 292.0h0M662.9 278.2h0M599.9 272.9h0M600.7 277.9h0M586.4 287.9h0M613.0 278.0h0M659.1 284.5h0M623.7 275.8h0M630.5 288.8h0M614.4 277.8h0M627.8 289.7h0M615.6 287.8h0M581.2 272.4h0M652.3 277.5h0M588.9 288.1h0M594.1 291.2h0M641.4 283.5h0M627.5 289.6h0M647.1 281.1h0M644.4 271.7h0M658.2 278.4h0M645.2 274.1h0M614.0 291.6h0M607.4 292.4h0M627.8 274.7h0M634.8 293.4h0M621.1 273.5h0M623.6 269.4h0M613.2 287.1h0M610.5 293.6h0M652.1 280.9h0M639.7 284.7h0M652.6 280.9h0M618.0 291.2h0M659.4 291.3h0M605.5 285.8h0M605.0 274.8h0M580.4 279.6h0M595.4 274.4h0M632.4 291.7h0M615.7 291.6h0M613.1 294.0h0M609.2 282.4h0M630.4 278.1h0M596.9 290.8h0M587.5 278.5h0M618.2 289.2h0M624.9 276.8h0M596.8 274.2h0M624.6 270.9h0M606.0 277.4h0M610.2 281.7h0M599.6 291.2h0M647.4 292.8h0M600.9 291.6h0M586.0 271.0h0" stroke="#0000ff" stroke-width="2.5" stroke-linecap="round" fill="none"/>
<line x1="496" y1="316.9" x2="504" y2="316.9" stroke="#999999" stroke-width="1.4"/>
<line x1="490" y1="324.7" x2="500" y2="324.7" stroke="#999999" stroke-width="1.4"/>
<line x1="494" y1="320.8" x2="505" y2="320.8" stroke="#999999" stroke-width="1.4"/>
<line x1="497" y1="327.4" x2="506" y2="327.4" stroke="#999999" stroke-width="1.4"/>
<line x1="499" y1="330.5" x2="508" y2="330.5" stroke="#999999" stroke-width="1.4"/>
<line x1="503" y1="334" x2="509" y2="334" stroke="#999999" stroke-width="1.4"/>
<path d="M486.0 314.2L697.0 314.2L692.0 317.0L688.0 320.0L672.0 325.5L654.0 331.0L640.0 334.0L615.0 339.0L590.0 346.0L575.0 352.0L565.0 357.0L558.0 364.0L555.0 372.5L527.0 372.5L522.0 361.0L517.0 350.0L513.4 343.7L509.5 340.5L506.0 336.5L503.0 333.2L501.0 329.3L500.0 326.0L503.0 321.0L498.0 317.0Z" fill="#999999"/>
<path d="M510.1 342.2h0M500.0 337.0h0M496.4 319.3h0M509.6 344.7h0M509.8 342.5h0M499.5 331.6h0M494.3 322.7h0M515.6 353.9h0M492.4 320.0h0M497.9 325.5h0M519.9 356.9h0M517.1 353.1h0M503.3 335.6h0M502.4 335.8h0M500.5 327.8h0M515.6 351.8h0M504.4 342.0h0M522.1 369.3h0M516.3 358.3h0M507.8 341.9h0M524.3 368.6h0M508.6 342.7h0M519.2 356.5h0M516.3 349.0h0M514.7 351.5h0M499.4 322.1h0M520.8 362.4h0M521.3 365.2h0M492.9 321.5h0M515.2 352.1h0M497.2 327.0h0M512.1 346.1h0M501.3 332.1h0M522.3 367.4h0M502.4 337.2h0M498.3 319.3h0M506.0 341.8h0M506.0 337.9h0M500.3 328.6h0M499.5 326.9h0M523.0 369.9h0M519.0 356.9h0M495.3 324.0h0M498.0 330.6h0M520.5 363.6h0M518.3 360.5h0M499.8 331.6h0M496.3 323.2h0M515.2 355.7h0M515.9 351.0h0M517.9 354.7h0M516.4 352.3h0M498.1 328.1h0M518.1 356.0h0M509.2 343.0h0M498.7 320.1h0M517.3 357.9h0M499.2 328.6h0M507.0 341.4h0M517.0 353.7h0M498.2 329.2h0M517.4 356.8h0M508.5 339.6h0M520.5 360.8h0M521.8 365.5h0" stroke="#999999" stroke-width="2.0" stroke-linecap="round" fill="none"/>
<path d="M594.5 353.5h0M616.2 345.9h0M664.6 332.0h0M629.4 337.9h0M639.8 334.2h0M677.4 325.8h0M572.8 355.0h0M650.5 334.7h0M609.8 347.5h0M653.4 331.5h0M591.2 357.4h0M567.3 365.1h0M600.7 347.1h0M557.2 371.1h0M653.4 337.2h0M561.0 368.5h0M581.0 361.9h0M659.5 333.4h0M667.7 329.1h0M571.4 355.4h0M591.8 354.2h0M581.5 356.3h0M579.7 350.5h0M633.4 335.6h0M586.9 348.0h0M626.9 346.5h0M603.9 352.1h0M589.9 356.3h0M567.7 365.1h0M576.7 364.5h0M566.7 356.7h0M567.7 359.2h0M568.9 371.0h0M634.5 342.1h0M644.6 341.0h0M635.1 338.7h0M676.0 325.8h0M633.8 339.2h0M633.2 342.2h0M574.1 358.7h0M639.0 340.6h0M615.5 348.7h0M583.3 361.1h0M581.9 358.5h0M575.0 361.1h0M657.4 330.2h0M653.1 338.1h0M582.3 361.3h0M646.2 340.7h0M591.4 347.7h0M593.5 346.3h0M595.6 351.7h0M630.1 337.0h0M614.6 345.0h0M575.3 361.6h0M572.3 353.6h0M600.3 351.0h0M666.3 328.0h0M568.7 363.4h0M576.3 361.6h0M627.1 337.8h0M670.5 330.4h0M586.0 356.9h0M563.7 365.7h0M609.9 348.2h0M678.0 329.9h0M636.8 338.6h0M575.8 353.7h0M628.1 337.7h0M647.0 339.1h0M642.3 333.7h0M670.8 329.0h0M678.3 328.6h0M622.4 348.6h0M582.2 350.7h0M608.6 345.6h0M646.1 335.8h0M658.1 338.2h0M623.7 341.7h0M565.3 358.0h0M609.5 348.1h0M677.8 330.9h0M678.8 329.8h0M571.3 362.0h0M638.7 343.1h0M613.6 350.2h0M578.5 359.2h0M634.3 336.7h0M574.8 354.5h0M672.1 328.1h0M583.9 349.9h0M659.2 335.5h0M619.0 342.2h0M673.9 332.0h0M644.4 338.9h0M658.6 337.6h0M685.9 327.3h0M562.5 367.0h0M619.8 342.3h0M593.9 345.0h0M565.5 365.1h0M583.2 353.6h0M671.6 330.9h0M603.5 349.5h0M571.5 355.8h0M587.2 357.0h0M694.6 318.6h0M654.3 331.7h0M568.1 369.5h0M557.6 368.1h0M650.6 333.5h0M558.2 364.4h0M692.6 319.3h0M681.8 326.5h0M581.3 362.0h0M674.8 326.4h0M558.9 365.7h0M606.9 350.2h0M583.9 361.8h0M575.6 362.9h0M608.6 345.5h0M680.0 328.0h0M578.0 364.2h0M655.6 336.4h0M579.1 354.1h0M559.5 368.9h0M638.5 335.8h0M646.0 337.2h0M590.5 346.8h0M654.6 337.3h0M601.6 344.4h0M589.6 347.4h0M630.8 337.2h0M653.6 338.5h0M603.7 347.4h0M571.8 354.0h0M589.6 357.3h0M617.9 340.7h0M666.5 334.9h0M606.8 342.2h0M630.6 345.7h0M650.0 340.3h0M586.7 360.5h0M673.8 332.3h0M574.8 357.9h0M597.7 348.7h0M573.4 367.3h0M625.7 339.6h0M664.1 330.8h0M565.0 366.9h0M617.0 340.2h0M624.6 347.8h0M580.7 357.0h0M601.3 346.0h0M664.8 333.8h0M665.7 335.1h0M638.8 335.0h0M562.4 366.7h0M619.9 339.4h0M604.1 343.5h0M607.4 345.7h0M568.1 367.8h0M671.6 333.3h0M653.4 335.9h0M568.9 357.0h0M662.3 333.6h0M692.5 322.3h0M574.8 357.4h0M655.4 331.5h0M685.2 321.8h0M691.3 319.6h0M584.2 357.8h0M571.2 355.7h0M594.1 348.1h0M663.3 336.3h0M671.5 331.6h0M628.5 341.6h0M583.3 357.7h0M562.2 369.4h0M619.5 348.5h0M664.8 333.2h0M567.4 365.1h0M595.8 350.6h0M602.1 349.4h0M574.4 354.3h0M598.1 345.4h0M569.5 360.8h0M653.5 334.3h0M663.6 328.3h0M563.0 367.9h0M674.9 328.7h0M582.5 356.0h0M624.2 348.1h0M630.2 342.4h0M616.9 344.8h0M560.5 370.5h0M610.7 349.3h0M565.0 369.4h0M658.6 337.5h0M565.1 360.8h0M572.0 368.6h0M575.4 365.3h0M567.8 371.1h0M677.9 324.2h0M561.7 370.6h0M624.8 338.6h0M563.6 370.8h0M628.5 338.7h0M558.7 369.6h0M630.0 339.9h0M560.5 364.7h0M671.7 333.0h0M586.6 349.3h0M590.8 351.0h0M640.6 336.9h0M637.7 336.8h0M628.1 341.7h0M590.0 355.4h0M573.2 354.4h0M656.8 333.6h0M664.8 330.3h0M607.2 352.5h0M570.2 355.3h0M589.5 357.2h0M575.7 354.5h0M670.3 331.0h0M586.2 348.3h0M586.2 350.5h0M620.6 345.6h0M566.1 360.5h0M625.2 344.7h0M667.6 327.4h0M630.6 344.4h0M632.4 344.2h0M627.9 337.4h0M596.3 353.5h0M590.9 351.3h0M655.2 338.9h0M573.8 366.4h0M604.0 346.9h0M656.7 330.8h0M610.1 346.7h0M629.3 339.7h0M568.8 364.6h0M623.5 340.6h0M585.4 353.9h0M577.3 360.3h0M568.2 363.7h0M630.9 344.0h0M609.4 342.9h0M627.4 339.3h0M606.8 353.1h0M677.8 326.6h0M607.9 348.4h0M624.0 338.0h0M577.2 363.4h0M562.9 370.5h0M569.7 363.7h0M593.3 346.0h0M623.1 344.3h0M573.7 355.6h0M593.9 350.6h0M667.5 331.5h0M653.2 333.6h0M644.3 339.5h0M665.6 332.0h0M683.5 322.4h0M602.1 343.7h0M573.6 366.5h0M646.1 336.0h0M563.7 361.6h0M657.4 330.7h0M602.9 346.9h0M613.9 342.3h0M689.6 319.9h0M653.4 337.4h0M609.4 342.8h0M679.3 326.0h0M681.7 326.2h0M643.8 341.6h0M600.0 349.1h0M585.8 352.9h0M639.8 341.2h0M574.4 357.9h0M571.2 353.9h0M608.1 342.7h0M619.6 340.9h0M669.7 333.3h0M638.4 337.0h0M576.1 353.8h0M576.1 352.6h0M603.8 354.4h0M589.0 355.5h0M575.7 365.2h0M570.0 364.0h0M578.8 356.4h0M593.4 350.0h0M573.1 359.4h0M667.4 329.5h0M575.9 352.6h0M613.3 343.8h0M615.5 348.5h0M608.1 352.0h0M603.3 349.2h0M614.2 339.6h0M635.5 335.7h0M606.0 345.7h0M587.5 351.0h0M608.5 341.6h0M560.8 371.9h0M638.6 336.1h0M569.0 363.5h0M567.5 368.5h0M601.9 347.7h0M611.0 346.0h0M584.0 355.2h0M653.3 336.5h0M616.5 343.3h0M561.0 369.4h0M659.3 330.7h0M583.1 361.9h0M615.1 340.0h0M634.7 340.8h0" stroke="#999999" stroke-width="2.0" stroke-linecap="round" fill="none"/>
<path d="M549.2 357.4h0M538.5 370.5h0M531.0 367.6h0M554.2 361.4h0M554.3 371.1h0M533.4 362.5h0M545.1 366.5h0M546.0 371.6h0M550.0 364.8h0M539.8 363.5h0M552.5 360.6h0M545.0 367.4h0M552.6 368.1h0" stroke="#ffffff" stroke-width="2.0" stroke-linecap="round" fill="none"/>
<path d="M645.7 348.7h0M708.0 325.7h0M633.7 359.5h0M698.9 333.5h0M635.1 357.5h0M604.2 370.8h0M674.3 347.6h0M617.5 365.7h0M631.3 360.9h0M637.1 353.5h0M628.3 359.5h0M626.5 362.6h0M619.8 346.7h0M603.2 362.0h0M672.8 345.5h0M616.4 365.6h0M632.1 361.9h0M643.8 348.9h0M701.0 336.7h0M688.3 335.2h0M644.9 354.4h0M644.1 343.9h0M604.1 360.2h0M600.4 362.9h0M686.7 331.9h0M634.4 342.2h0M661.4 340.4h0M643.5 359.4h0M640.0 355.3h0M706.0 326.0h0M668.4 348.2h0M645.6 344.9h0M622.9 354.0h0M700.3 326.2h0M670.7 338.9h0M637.7 360.1h0M615.4 370.0h0M647.9 359.2h0M681.5 344.7h0M684.4 339.1h0M642.6 341.4h0M596.2 370.1h0M638.3 349.9h0M630.3 364.1h0M616.1 362.1h0M698.7 337.8h0M653.4 343.7h0M678.8 341.8h0M670.5 349.8h0M688.8 335.3h0M676.4 333.3h0M628.6 365.1h0M616.5 364.8h0M678.9 345.3h0M660.0 344.9h0M676.4 341.3h0M647.1 340.0h0M677.7 348.3h0M608.3 354.3h0M652.1 356.0h0M704.2 325.7h0M638.3 360.0h0M616.9 368.2h0M618.9 358.8h0M688.7 334.5h0M625.5 344.8h0M604.3 367.4h0M614.0 369.1h0M604.9 361.0h0M596.2 364.9h0M687.7 331.2h0M610.5 366.3h0M679.6 333.7h0M638.5 349.0h0M627.4 353.2h0M614.1 351.8h0M631.3 353.9h0M630.9 350.9h0M636.0 342.0h0" stroke="#999999" stroke-width="2.0" stroke-linecap="round" fill="none"/>
<path d="M646.6 338.1h0M596.9 360.2h0M639.7 345.8h0M603.0 350.4h0M625.6 332.2h0M654.3 347.5h0M602.3 336.5h0M674.0 320.6h0M621.7 366.9h0M670.0 333.8h0M592.3 352.5h0M613.4 334.3h0M593.6 352.6h0M617.4 370.2h0M659.3 333.9h0M614.1 345.7h0M619.5 356.8h0M657.9 331.7h0M673.5 330.8h0M656.5 323.0h0M585.4 360.8h0M608.5 369.2h0M611.8 333.5h0M609.6 357.6h0M659.7 332.9h0M645.0 337.0h0M673.0 326.0h0M618.7 350.1h0M611.6 365.4h0M575.0 360.9h0M588.8 354.3h0M615.9 350.9h0M598.4 366.8h0M653.7 329.1h0M625.1 351.6h0M619.5 355.0h0M615.5 359.7h0M622.8 357.8h0M599.6 343.9h0M641.7 350.1h0M599.8 368.5h0M612.7 360.1h0M592.3 337.7h0M613.5 361.2h0M597.9 357.1h0M673.8 325.7h0M620.5 365.8h0M586.3 358.6h0M595.1 364.3h0M578.9 343.8h0M606.9 349.9h0M631.7 354.2h0M574.8 350.1h0M620.1 334.9h0M611.4 358.4h0M625.7 333.0h0M643.1 346.6h0M608.6 354.2h0M578.9 365.2h0M618.9 368.0h0M577.6 357.1h0M635.3 344.3h0M576.6 344.0h0M654.4 327.9h0M606.7 363.8h0M623.6 341.1h0M594.8 337.6h0M640.4 329.0h0M590.4 364.7h0M591.0 344.0h0M627.3 336.4h0M648.2 341.6h0M590.6 345.2h0M584.3 349.6h0M598.6 361.7h0M590.5 352.0h0M640.2 356.3h0M618.0 358.6h0M638.6 338.7h0M568.7 347.3h0M661.4 343.4h0M571.7 370.2h0M602.1 360.6h0M622.8 332.9h0M637.2 336.9h0M610.5 361.4h0M560.5 353.5h0M583.9 371.5h0M652.0 339.4h0M596.0 350.7h0M599.4 365.7h0M666.1 323.3h0M609.5 343.7h0" stroke="#0000ff" stroke-width="2.5" stroke-linecap="round" fill="none"/>
<path d="M590.1 343.0h0M577.9 359.4h0M573.2 348.5h0M640.2 328.6h0M641.1 334.6h0M625.7 335.8h0M637.7 337.2h0M578.3 351.0h0M628.3 333.7h0M600.8 348.2h0M592.1 361.4h0M576.7 367.0h0M627.9 344.9h0M586.1 353.1h0M638.8 343.5h0M608.2 336.6h0M566.6 356.2h0M625.2 351.6h0M583.8 360.1h0M631.6 330.4h0M638.8 337.4h0M631.6 334.7h0M594.2 343.6h0M639.0 338.3h0M594.4 345.4h0M623.5 331.2h0M599.4 351.4h0M594.0 350.2h0M619.5 338.7h0M597.1 359.5h0M605.6 350.1h0M634.0 334.7h0M602.7 341.5h0M560.5 354.6h0M618.7 342.3h0M617.3 332.4h0M571.3 352.6h0M641.9 331.8h0M608.5 342.3h0M578.0 353.6h0M627.9 344.4h0M640.3 335.5h0M582.9 362.4h0M567.1 352.8h0M580.8 355.8h0M606.3 349.9h0M610.2 350.9h0M626.9 341.1h0M626.8 341.9h0M613.0 334.1h0M570.4 358.2h0M602.6 346.2h0M614.4 341.3h0M590.6 342.3h0M596.9 340.9h0M612.0 338.9h0M570.7 364.0h0M588.2 342.6h0M631.2 332.8h0M576.0 353.2h0M633.6 339.3h0M615.3 337.4h0M632.9 342.0h0M583.0 344.5h0M608.6 347.5h0M639.5 339.7h0M624.4 330.9h0M573.2 349.5h0M636.8 331.2h0M627.0 344.4h0M583.3 356.8h0M574.4 361.4h0M620.5 332.1h0M596.1 341.2h0" stroke="#0000ff" stroke-width="2.5" stroke-linecap="round" fill="none"/>
<path d="M560.0 372.4l1.1 -2.2h-2.2zM562.5 372.4l1.1 -2.2h-2.2zM565.0 372.4l1.1 -2.2h-2.2zM567.5 372.4l1.1 -2.2h-2.2zM570.0 372.4l1.1 -2.2h-2.2zM573.0 372.4l1.1 -2.2h-2.2zM577.0 372.4l1.1 -2.2h-2.2zM581.0 372.4l1.1 -2.2h-2.2zM583.0 372.4l1.1 -2.2h-2.2zM585.0 372.4l1.1 -2.2h-2.2zM589.0 372.4l1.1 -2.2h-2.2zM593.0 372.4l1.1 -2.2h-2.2zM601.0 372.4l1.1 -2.2h-2.2zM605.0 372.4l1.1 -2.2h-2.2zM611.0 372.4l1.1 -2.2h-2.2zM638.0 372.4l1.1 -2.2h-2.2z" stroke="#0000ff" stroke-width="0.6" fill="none"/>
<line x1="478.0" y1="314.25" x2="722.3" y2="314.25" stroke="#626262" stroke-width="2.9"/>
</g>
<rect x="478.0" y="253.6" width="244.29999999999995" height="122.00000000000003" fill="none" stroke="#555555" stroke-width="1.3"/>
<line x1="471.0" y1="284.0" x2="478.0" y2="284.0" stroke="#555555" stroke-width="1.1"/>
<text x="464.3" y="284.0" font-size="9.5" fill="#222" text-anchor="middle" transform="rotate(-90 464.3 284.0)">1</text>
<line x1="471.0" y1="314.2" x2="478.0" y2="314.2" stroke="#555555" stroke-width="1.1"/>
<text x="464.3" y="314.2" font-size="9.5" fill="#222" text-anchor="middle" transform="rotate(-90 464.3 314.2)">0</text>
<line x1="471.0" y1="344.9" x2="478.0" y2="344.9" stroke="#555555" stroke-width="1.1"/>
<text x="464.3" y="344.9" font-size="9.5" fill="#222" text-anchor="middle" transform="rotate(-90 464.3 344.9)">&#8722;1</text>
<line x1="482.3" y1="375.6" x2="482.3" y2="381.4" stroke="#555555" stroke-width="1.1"/>
<text x="482.3" y="396.4" font-size="9.4" fill="#222" text-anchor="middle">1e&#8722;02</text>
<line x1="545.7" y1="375.6" x2="545.7" y2="381.4" stroke="#555555" stroke-width="1.1"/>
<text x="545.7" y="396.4" font-size="9.4" fill="#222" text-anchor="middle">1e+00</text>
<line x1="609.2" y1="375.6" x2="609.2" y2="381.4" stroke="#555555" stroke-width="1.1"/>
<text x="609.2" y="396.4" font-size="9.4" fill="#222" text-anchor="middle">1e+02</text>
<line x1="672.6" y1="375.6" x2="672.6" y2="381.4" stroke="#555555" stroke-width="1.1"/>
<text x="672.6" y="396.4" font-size="9.4" fill="#222" text-anchor="middle">1e+04</text>
<text x="599.7" y="418.8" font-size="9.25" fill="#222" text-anchor="middle" textLength="112.8" lengthAdjust="spacingAndGlyphs">mean of normalized counts</text>
<text x="443.0" y="315.2" font-size="9.05" fill="#222" text-anchor="middle" textLength="64.6" lengthAdjust="spacingAndGlyphs" transform="rotate(-90 443.0 315.2)">log fold change</text></g>
</svg>
</body></html>
